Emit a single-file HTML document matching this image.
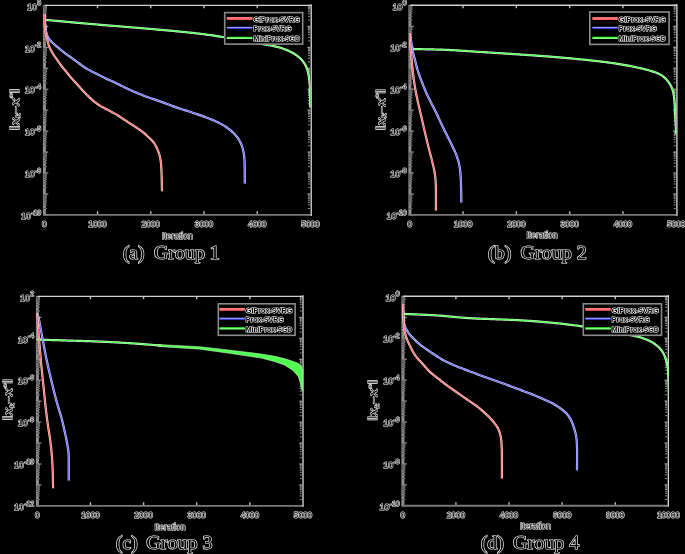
<!DOCTYPE html>
<html><head><meta charset="utf-8"><style>
html,body{margin:0;padding:0;background:#000;width:685px;height:554px;overflow:hidden}
svg{display:block}

</style></head><body>
<svg width="685" height="554" viewBox="0 0 685 554"><rect x="42.90" y="4.90" width="3.0" height="210.50" fill="#8e8e8e"/>
<path d="M43.30 20.04H45.90M43.30 16.35H45.90M43.30 13.74H45.90M43.30 11.71H45.90M43.30 10.05H45.90M43.30 8.65H45.90M43.30 7.43H45.90M43.30 6.36H45.90M43.30 40.99H45.90M43.30 37.30H45.90M43.30 34.69H45.90M43.30 32.66H45.90M43.30 31.00H45.90M43.30 29.60H45.90M43.30 28.38H45.90M43.30 27.31H45.90M43.30 61.94H45.90M43.30 58.25H45.90M43.30 55.64H45.90M43.30 53.61H45.90M43.30 51.95H45.90M43.30 50.55H45.90M43.30 49.33H45.90M43.30 48.26H45.90M43.30 82.89H45.90M43.30 79.20H45.90M43.30 76.59H45.90M43.30 74.56H45.90M43.30 72.90H45.90M43.30 71.50H45.90M43.30 70.28H45.90M43.30 69.21H45.90M43.30 103.84H45.90M43.30 100.15H45.90M43.30 97.54H45.90M43.30 95.51H45.90M43.30 93.85H45.90M43.30 92.45H45.90M43.30 91.23H45.90M43.30 90.16H45.90M43.30 124.79H45.90M43.30 121.10H45.90M43.30 118.49H45.90M43.30 116.46H45.90M43.30 114.80H45.90M43.30 113.40H45.90M43.30 112.18H45.90M43.30 111.11H45.90M43.30 145.74H45.90M43.30 142.05H45.90M43.30 139.44H45.90M43.30 137.41H45.90M43.30 135.75H45.90M43.30 134.35H45.90M43.30 133.13H45.90M43.30 132.06H45.90M43.30 166.69H45.90M43.30 163.00H45.90M43.30 160.39H45.90M43.30 158.36H45.90M43.30 156.70H45.90M43.30 155.30H45.90M43.30 154.08H45.90M43.30 153.01H45.90M43.30 187.64H45.90M43.30 183.95H45.90M43.30 181.34H45.90M43.30 179.31H45.90M43.30 177.65H45.90M43.30 176.25H45.90M43.30 175.03H45.90M43.30 173.96H45.90M43.30 208.59H45.90M43.30 204.90H45.90M43.30 202.29H45.90M43.30 200.26H45.90M43.30 198.60H45.90M43.30 197.20H45.90M43.30 195.98H45.90M43.30 194.91H45.90" fill="none" stroke="#333" stroke-width="0.6"/>
<path d="M45.90 20.04H46.80M45.90 16.35H46.80M45.90 13.74H46.80M45.90 11.71H46.80M45.90 10.05H46.80M45.90 8.65H46.80M45.90 7.43H46.80M45.90 6.36H46.80M45.90 40.99H46.80M45.90 37.30H46.80M45.90 34.69H46.80M45.90 32.66H46.80M45.90 31.00H46.80M45.90 29.60H46.80M45.90 28.38H46.80M45.90 27.31H46.80M45.90 61.94H46.80M45.90 58.25H46.80M45.90 55.64H46.80M45.90 53.61H46.80M45.90 51.95H46.80M45.90 50.55H46.80M45.90 49.33H46.80M45.90 48.26H46.80M45.90 82.89H46.80M45.90 79.20H46.80M45.90 76.59H46.80M45.90 74.56H46.80M45.90 72.90H46.80M45.90 71.50H46.80M45.90 70.28H46.80M45.90 69.21H46.80M45.90 103.84H46.80M45.90 100.15H46.80M45.90 97.54H46.80M45.90 95.51H46.80M45.90 93.85H46.80M45.90 92.45H46.80M45.90 91.23H46.80M45.90 90.16H46.80M45.90 124.79H46.80M45.90 121.10H46.80M45.90 118.49H46.80M45.90 116.46H46.80M45.90 114.80H46.80M45.90 113.40H46.80M45.90 112.18H46.80M45.90 111.11H46.80M45.90 145.74H46.80M45.90 142.05H46.80M45.90 139.44H46.80M45.90 137.41H46.80M45.90 135.75H46.80M45.90 134.35H46.80M45.90 133.13H46.80M45.90 132.06H46.80M45.90 166.69H46.80M45.90 163.00H46.80M45.90 160.39H46.80M45.90 158.36H46.80M45.90 156.70H46.80M45.90 155.30H46.80M45.90 154.08H46.80M45.90 153.01H46.80M45.90 187.64H46.80M45.90 183.95H46.80M45.90 181.34H46.80M45.90 179.31H46.80M45.90 177.65H46.80M45.90 176.25H46.80M45.90 175.03H46.80M45.90 173.96H46.80M45.90 208.59H46.80M45.90 204.90H46.80M45.90 202.29H46.80M45.90 200.26H46.80M45.90 198.60H46.80M45.90 197.20H46.80M45.90 195.98H46.80M45.90 194.91H46.80" fill="none" stroke="#ccc" stroke-width="0.8"/>
<path d="M308.00 20.04H309.90M308.00 16.35H309.90M308.00 13.74H309.90M308.00 11.71H309.90M308.00 10.05H309.90M308.00 8.65H309.90M308.00 7.43H309.90M308.00 6.36H309.90M308.00 40.99H309.90M308.00 37.30H309.90M308.00 34.69H309.90M308.00 32.66H309.90M308.00 31.00H309.90M308.00 29.60H309.90M308.00 28.38H309.90M308.00 27.31H309.90M308.00 61.94H309.90M308.00 58.25H309.90M308.00 55.64H309.90M308.00 53.61H309.90M308.00 51.95H309.90M308.00 50.55H309.90M308.00 49.33H309.90M308.00 48.26H309.90M308.00 82.89H309.90M308.00 79.20H309.90M308.00 76.59H309.90M308.00 74.56H309.90M308.00 72.90H309.90M308.00 71.50H309.90M308.00 70.28H309.90M308.00 69.21H309.90M308.00 103.84H309.90M308.00 100.15H309.90M308.00 97.54H309.90M308.00 95.51H309.90M308.00 93.85H309.90M308.00 92.45H309.90M308.00 91.23H309.90M308.00 90.16H309.90M308.00 124.79H309.90M308.00 121.10H309.90M308.00 118.49H309.90M308.00 116.46H309.90M308.00 114.80H309.90M308.00 113.40H309.90M308.00 112.18H309.90M308.00 111.11H309.90M308.00 145.74H309.90M308.00 142.05H309.90M308.00 139.44H309.90M308.00 137.41H309.90M308.00 135.75H309.90M308.00 134.35H309.90M308.00 133.13H309.90M308.00 132.06H309.90M308.00 166.69H309.90M308.00 163.00H309.90M308.00 160.39H309.90M308.00 158.36H309.90M308.00 156.70H309.90M308.00 155.30H309.90M308.00 154.08H309.90M308.00 153.01H309.90M308.00 187.64H309.90M308.00 183.95H309.90M308.00 181.34H309.90M308.00 179.31H309.90M308.00 177.65H309.90M308.00 176.25H309.90M308.00 175.03H309.90M308.00 173.96H309.90M308.00 208.59H309.90M308.00 204.90H309.90M308.00 202.29H309.90M308.00 200.26H309.90M308.00 198.60H309.90M308.00 197.20H309.90M308.00 195.98H309.90M308.00 194.91H309.90" fill="none" stroke="#aaa" stroke-width="0.9"/>
<path d="M45.90 5.40H48.30M310.20 5.40H307.40M45.90 26.35H48.30M310.20 26.35H307.40M45.90 47.30H48.30M310.20 47.30H307.40M45.90 68.25H48.30M310.20 68.25H307.40M45.90 89.20H48.30M310.20 89.20H307.40M45.90 110.15H48.30M310.20 110.15H307.40M45.90 131.10H48.30M310.20 131.10H307.40M45.90 152.05H48.30M310.20 152.05H307.40M45.90 173.00H48.30M310.20 173.00H307.40M45.90 193.95H48.30M310.20 193.95H307.40M45.90 214.90H48.30M310.20 214.90H307.40" fill="none" stroke="#ccc" stroke-width="0.9"/>
<path d="M43.00 214.90H310.70" fill="none" stroke="#7a7a7a" stroke-width="1.9"/>
<path d="M44.80 5.40H311.20" fill="none" stroke="#d0d0d0" stroke-width="1.4"/>
<path d="M311.20 4.20V215.90" fill="none" stroke="#dcdcdc" stroke-width="1.3"/>
<path d="M97.54 213.90V211.30M97.54 6.10V8.30M150.78 213.90V211.30M150.78 6.10V8.30M204.02 213.90V211.30M204.02 6.10V8.30M257.26 213.90V211.30M257.26 6.10V8.30" fill="none" stroke="#bbb" stroke-width="1.4"/>
<clipPath id="ca"><rect x="43.3" y="5.4" width="267.2" height="209.5"/></clipPath>
<g clip-path="url(#ca)">
<path d="M44.90,19.80 L46.40,19.94 L47.89,20.08 L49.39,20.21 L50.89,20.35 L52.38,20.49 L53.88,20.63 L55.38,20.77 L56.87,20.91 L58.37,21.05 L59.87,21.19 L61.36,21.33 L62.86,21.46 L64.36,21.60 L65.85,21.74 L67.35,21.88 L68.85,22.01 L70.34,22.15 L71.84,22.28 L73.34,22.42 L74.83,22.55 L76.33,22.69 L77.83,22.82 L79.32,22.96 L80.82,23.09 L82.32,23.22 L83.82,23.36 L85.31,23.49 L86.81,23.62 L88.31,23.75 L89.80,23.88 L91.30,24.01 L92.80,24.14 L94.30,24.27 L95.79,24.40 L97.29,24.52 L98.79,24.65 L100.29,24.78 L101.79,24.90 L103.28,25.03 L104.78,25.15 L106.28,25.28 L107.78,25.40 L109.27,25.53 L110.77,25.65 L112.27,25.78 L113.77,25.90 L115.27,26.02 L116.76,26.15 L118.26,26.27 L119.76,26.39 L121.26,26.52 L122.76,26.64 L124.25,26.77 L125.75,26.89 L127.25,27.01 L128.75,27.14 L130.25,27.26 L131.74,27.38 L133.24,27.51 L134.74,27.63 L136.24,27.76 L137.73,27.88 L139.23,28.01 L140.73,28.13 L142.23,28.26 L143.73,28.38 L145.22,28.51 L146.72,28.64 L148.22,28.76 L149.72,28.89 L151.21,29.02 L152.71,29.14 L154.21,29.27 L155.71,29.40 L157.20,29.53 L158.70,29.66 L160.20,29.79 L161.70,29.92 L163.19,30.05 L164.69,30.18 L166.19,30.32 L167.68,30.45 L169.18,30.59 L170.68,30.72 L172.17,30.86 L173.67,31.00 L175.17,31.14 L176.66,31.28 L178.16,31.42 L179.66,31.57 L181.15,31.72 L182.65,31.87 L184.14,32.02 L185.64,32.17 L187.13,32.32 L188.63,32.48 L190.12,32.64 L191.62,32.80 L193.11,32.96 L194.60,33.13 L196.10,33.30 L197.59,33.47 L199.08,33.65 L200.58,33.83 L202.07,34.01 L203.56,34.20 L205.05,34.40 L206.54,34.59 L208.03,34.80 L209.52,35.00 L211.01,35.21 L212.49,35.43 L213.98,35.64 L215.47,35.86 L216.95,36.09 L218.44,36.31 L219.93,36.54 L221.41,36.77 L222.90,37.00 L224.38,37.23 L225.87,37.46 L227.35,37.70 L228.83,37.95 L230.32,38.19 L231.80,38.45 L233.28,38.70 L234.76,38.96 L236.24,39.23 L237.72,39.49 L239.20,39.76 L240.67,40.03 L242.15,40.31 L243.63,40.58 L245.11,40.86 L246.58,41.14 L248.06,41.42 L249.54,41.70 L251.01,41.98 L252.49,42.27 L253.96,42.55 L255.44,42.83 L256.92,43.12 L258.39,43.40 L259.87,43.68 L261.35,43.96 L262.82,44.24 L264.30,44.51 L265.78,44.78 L267.26,45.04 L268.74,45.29 L270.22,45.54 L271.71,45.78 L273.19,46.04 L274.67,46.31 L276.14,46.61 L277.60,46.95 L279.05,47.33 L280.49,47.75 L281.92,48.21 L283.34,48.71 L284.75,49.23 L286.14,49.79 L287.53,50.37 L288.89,50.99 L290.25,51.64 L291.59,52.32 L292.91,53.04 L294.20,53.80 L295.47,54.60 L296.71,55.44 L297.91,56.34 L299.06,57.29 L300.17,58.30 L301.23,59.37 L302.22,60.48 L303.16,61.65 L304.04,62.86 L304.84,64.12 L305.56,65.43 L306.20,66.78 L306.76,68.17 L307.25,69.59 L307.68,71.02 L308.04,72.48 L308.35,73.95 L308.63,75.42 L308.88,76.90 L309.10,78.39 L309.30,79.88 L309.47,81.37 L309.62,82.87 L309.75,84.36 L309.84,85.86 L309.91,87.36 L309.97,88.87 L310.01,90.37 L310.04,91.87 L310.08,93.37 L310.11,94.88 L310.13,96.38 L310.15,97.88 L310.17,99.38 L310.18,100.89 L310.19,102.39 L310.19,103.89 L310.20,105.40 L310.20,106.90 L310.20,107.40" fill="none" stroke="#d0ffd0" stroke-width="2.2" stroke-linejoin="round" stroke-linecap="butt"/>
<path d="M44.90,19.80 L46.40,19.94 L47.89,20.08 L49.39,20.21 L50.89,20.35 L52.38,20.49 L53.88,20.63 L55.38,20.77 L56.87,20.91 L58.37,21.05 L59.87,21.19 L61.36,21.33 L62.86,21.46 L64.36,21.60 L65.85,21.74 L67.35,21.88 L68.85,22.01 L70.34,22.15 L71.84,22.28 L73.34,22.42 L74.83,22.55 L76.33,22.69 L77.83,22.82 L79.32,22.96 L80.82,23.09 L82.32,23.22 L83.82,23.36 L85.31,23.49 L86.81,23.62 L88.31,23.75 L89.80,23.88 L91.30,24.01 L92.80,24.14 L94.30,24.27 L95.79,24.40 L97.29,24.52 L98.79,24.65 L100.29,24.78 L101.79,24.90 L103.28,25.03 L104.78,25.15 L106.28,25.28 L107.78,25.40 L109.27,25.53 L110.77,25.65 L112.27,25.78 L113.77,25.90 L115.27,26.02 L116.76,26.15 L118.26,26.27 L119.76,26.39 L121.26,26.52 L122.76,26.64 L124.25,26.77 L125.75,26.89 L127.25,27.01 L128.75,27.14 L130.25,27.26 L131.74,27.38 L133.24,27.51 L134.74,27.63 L136.24,27.76 L137.73,27.88 L139.23,28.01 L140.73,28.13 L142.23,28.26 L143.73,28.38 L145.22,28.51 L146.72,28.64 L148.22,28.76 L149.72,28.89 L151.21,29.02 L152.71,29.14 L154.21,29.27 L155.71,29.40 L157.20,29.53 L158.70,29.66 L160.20,29.79 L161.70,29.92 L163.19,30.05 L164.69,30.18 L166.19,30.32 L167.68,30.45 L169.18,30.59 L170.68,30.72 L172.17,30.86 L173.67,31.00 L175.17,31.14 L176.66,31.28 L178.16,31.42 L179.66,31.57 L181.15,31.72 L182.65,31.87 L184.14,32.02 L185.64,32.17 L187.13,32.32 L188.63,32.48 L190.12,32.64 L191.62,32.80 L193.11,32.96 L194.60,33.13 L196.10,33.30 L197.59,33.47 L199.08,33.65 L200.58,33.83 L202.07,34.01 L203.56,34.20 L205.05,34.40 L206.54,34.59 L208.03,34.80 L209.52,35.00 L211.01,35.21 L212.49,35.43 L213.98,35.64 L215.47,35.86 L216.95,36.09 L218.44,36.31 L219.93,36.54 L221.41,36.77 L222.90,37.00 L224.38,37.23 L225.87,37.46 L227.35,37.70 L228.83,37.95 L230.32,38.19 L231.80,38.45 L233.28,38.70 L234.76,38.96 L236.24,39.23 L237.72,39.49 L239.20,39.76 L240.67,40.03 L242.15,40.31 L243.63,40.58 L245.11,40.86 L246.58,41.14 L248.06,41.42 L249.54,41.70 L251.01,41.98 L252.49,42.27 L253.96,42.55 L255.44,42.83 L256.92,43.12 L258.39,43.40 L259.87,43.68 L261.35,43.96 L262.82,44.24 L264.30,44.51 L265.78,44.78 L267.26,45.04 L268.74,45.29 L270.22,45.54 L271.71,45.78 L273.19,46.04 L274.67,46.31 L276.14,46.61 L277.60,46.95 L279.05,47.33 L280.49,47.75 L281.92,48.21 L283.34,48.71 L284.75,49.23 L286.14,49.79 L287.53,50.37 L288.89,50.99 L290.25,51.64 L291.59,52.32 L292.91,53.04 L294.20,53.80 L295.47,54.60 L296.71,55.44 L297.91,56.34 L299.06,57.29 L300.17,58.30 L301.23,59.37 L302.22,60.48 L303.16,61.65 L304.04,62.86 L304.84,64.12 L305.56,65.43 L306.20,66.78 L306.76,68.17 L307.25,69.59 L307.68,71.02 L308.04,72.48 L308.35,73.95 L308.63,75.42 L308.88,76.90 L309.10,78.39 L309.30,79.88 L309.47,81.37 L309.62,82.87 L309.75,84.36 L309.84,85.86 L309.91,87.36 L309.97,88.87 L310.01,90.37 L310.04,91.87 L310.08,93.37 L310.11,94.88 L310.13,96.38 L310.15,97.88 L310.17,99.38 L310.18,100.89 L310.19,102.39 L310.19,103.89 L310.20,105.40 L310.20,106.90 L310.20,107.40" fill="none" stroke="#3cff3c" stroke-width="1.0" stroke-linejoin="round" stroke-linecap="butt"/>
<path d="M44.50,14.00 L44.62,15.50 L44.73,17.00 L44.85,18.50 L44.96,20.00 L45.08,21.50 L45.19,23.00 L45.31,24.50 L45.43,26.00 L45.56,27.50 L45.74,28.99 L45.96,30.47 L46.25,31.95 L46.61,33.40 L47.06,34.82 L47.61,36.20 L48.29,37.53 L49.08,38.79 L49.98,39.98 L50.96,41.11 L52.00,42.18 L53.09,43.22 L54.20,44.23 L55.32,45.23 L56.45,46.22 L57.60,47.20 L58.75,48.17 L59.91,49.12 L61.08,50.07 L62.25,51.01 L63.44,51.94 L64.63,52.86 L65.83,53.76 L67.04,54.65 L68.27,55.53 L69.49,56.40 L70.72,57.27 L71.95,58.14 L73.17,59.02 L74.38,59.91 L75.58,60.81 L76.79,61.71 L77.99,62.62 L79.20,63.51 L80.41,64.40 L81.63,65.28 L82.87,66.14 L84.11,66.99 L85.37,67.81 L86.64,68.62 L87.92,69.40 L89.23,70.15 L90.55,70.87 L91.88,71.56 L93.23,72.22 L94.58,72.88 L95.93,73.55 L97.28,74.21 L98.62,74.89 L99.96,75.57 L101.31,76.25 L102.65,76.93 L104.00,77.59 L105.36,78.24 L106.72,78.88 L108.09,79.50 L109.46,80.11 L110.84,80.73 L112.21,81.34 L113.58,81.97 L114.94,82.61 L116.30,83.26 L117.65,83.92 L118.99,84.59 L120.34,85.27 L121.68,85.95 L123.03,86.62 L124.38,87.28 L125.73,87.94 L127.09,88.58 L128.46,89.21 L129.83,89.83 L131.20,90.44 L132.58,91.05 L133.96,91.65 L135.34,92.24 L136.73,92.82 L138.12,93.40 L139.51,93.98 L140.90,94.54 L142.30,95.10 L143.70,95.65 L145.11,96.18 L146.52,96.70 L147.93,97.21 L149.35,97.71 L150.78,98.20 L152.20,98.68 L153.63,99.16 L155.05,99.65 L156.47,100.14 L157.90,100.63 L159.32,101.12 L160.74,101.62 L162.16,102.12 L163.57,102.62 L164.99,103.14 L166.39,103.67 L167.80,104.21 L169.20,104.76 L170.59,105.31 L172.00,105.86 L173.40,106.39 L174.82,106.90 L176.24,107.40 L177.67,107.87 L179.10,108.34 L180.53,108.79 L181.96,109.25 L183.40,109.70 L184.83,110.15 L186.27,110.61 L187.70,111.07 L189.13,111.53 L190.56,112.00 L191.99,112.47 L193.42,112.95 L194.84,113.42 L196.27,113.91 L197.69,114.39 L199.12,114.88 L200.54,115.37 L201.96,115.87 L203.37,116.38 L204.79,116.89 L206.20,117.42 L207.60,117.96 L209.00,118.50 L210.40,119.06 L211.79,119.63 L213.18,120.21 L214.56,120.80 L215.94,121.41 L217.30,122.05 L218.65,122.70 L219.99,123.39 L221.32,124.10 L222.62,124.85 L223.91,125.62 L225.18,126.43 L226.43,127.26 L227.66,128.13 L228.86,129.03 L230.05,129.96 L231.20,130.92 L232.32,131.92 L233.41,132.95 L234.45,134.03 L235.46,135.14 L236.43,136.29 L237.35,137.47 L238.23,138.69 L239.04,139.95 L239.80,141.25 L240.49,142.58 L241.12,143.94 L241.68,145.33 L242.17,146.75 L242.61,148.18 L242.99,149.64 L243.33,151.10 L243.63,152.57 L243.88,154.05 L244.09,155.54 L244.25,157.04 L244.37,158.53 L244.47,160.03 L244.53,161.54 L244.58,163.04 L244.62,164.54 L244.65,166.05 L244.68,167.55 L244.70,169.06 L244.71,170.56 L244.73,172.07 L244.74,173.57 L244.75,175.07 L244.76,176.58 L244.76,178.08 L244.77,179.59 L244.78,181.09 L244.79,182.60 L244.80,183.60" fill="none" stroke="#d0d0ff" stroke-width="2.2" stroke-linejoin="round" stroke-linecap="butt"/>
<path d="M44.50,14.00 L44.62,15.50 L44.73,17.00 L44.85,18.50 L44.96,20.00 L45.08,21.50 L45.19,23.00 L45.31,24.50 L45.43,26.00 L45.56,27.50 L45.74,28.99 L45.96,30.47 L46.25,31.95 L46.61,33.40 L47.06,34.82 L47.61,36.20 L48.29,37.53 L49.08,38.79 L49.98,39.98 L50.96,41.11 L52.00,42.18 L53.09,43.22 L54.20,44.23 L55.32,45.23 L56.45,46.22 L57.60,47.20 L58.75,48.17 L59.91,49.12 L61.08,50.07 L62.25,51.01 L63.44,51.94 L64.63,52.86 L65.83,53.76 L67.04,54.65 L68.27,55.53 L69.49,56.40 L70.72,57.27 L71.95,58.14 L73.17,59.02 L74.38,59.91 L75.58,60.81 L76.79,61.71 L77.99,62.62 L79.20,63.51 L80.41,64.40 L81.63,65.28 L82.87,66.14 L84.11,66.99 L85.37,67.81 L86.64,68.62 L87.92,69.40 L89.23,70.15 L90.55,70.87 L91.88,71.56 L93.23,72.22 L94.58,72.88 L95.93,73.55 L97.28,74.21 L98.62,74.89 L99.96,75.57 L101.31,76.25 L102.65,76.93 L104.00,77.59 L105.36,78.24 L106.72,78.88 L108.09,79.50 L109.46,80.11 L110.84,80.73 L112.21,81.34 L113.58,81.97 L114.94,82.61 L116.30,83.26 L117.65,83.92 L118.99,84.59 L120.34,85.27 L121.68,85.95 L123.03,86.62 L124.38,87.28 L125.73,87.94 L127.09,88.58 L128.46,89.21 L129.83,89.83 L131.20,90.44 L132.58,91.05 L133.96,91.65 L135.34,92.24 L136.73,92.82 L138.12,93.40 L139.51,93.98 L140.90,94.54 L142.30,95.10 L143.70,95.65 L145.11,96.18 L146.52,96.70 L147.93,97.21 L149.35,97.71 L150.78,98.20 L152.20,98.68 L153.63,99.16 L155.05,99.65 L156.47,100.14 L157.90,100.63 L159.32,101.12 L160.74,101.62 L162.16,102.12 L163.57,102.62 L164.99,103.14 L166.39,103.67 L167.80,104.21 L169.20,104.76 L170.59,105.31 L172.00,105.86 L173.40,106.39 L174.82,106.90 L176.24,107.40 L177.67,107.87 L179.10,108.34 L180.53,108.79 L181.96,109.25 L183.40,109.70 L184.83,110.15 L186.27,110.61 L187.70,111.07 L189.13,111.53 L190.56,112.00 L191.99,112.47 L193.42,112.95 L194.84,113.42 L196.27,113.91 L197.69,114.39 L199.12,114.88 L200.54,115.37 L201.96,115.87 L203.37,116.38 L204.79,116.89 L206.20,117.42 L207.60,117.96 L209.00,118.50 L210.40,119.06 L211.79,119.63 L213.18,120.21 L214.56,120.80 L215.94,121.41 L217.30,122.05 L218.65,122.70 L219.99,123.39 L221.32,124.10 L222.62,124.85 L223.91,125.62 L225.18,126.43 L226.43,127.26 L227.66,128.13 L228.86,129.03 L230.05,129.96 L231.20,130.92 L232.32,131.92 L233.41,132.95 L234.45,134.03 L235.46,135.14 L236.43,136.29 L237.35,137.47 L238.23,138.69 L239.04,139.95 L239.80,141.25 L240.49,142.58 L241.12,143.94 L241.68,145.33 L242.17,146.75 L242.61,148.18 L242.99,149.64 L243.33,151.10 L243.63,152.57 L243.88,154.05 L244.09,155.54 L244.25,157.04 L244.37,158.53 L244.47,160.03 L244.53,161.54 L244.58,163.04 L244.62,164.54 L244.65,166.05 L244.68,167.55 L244.70,169.06 L244.71,170.56 L244.73,172.07 L244.74,173.57 L244.75,175.07 L244.76,176.58 L244.76,178.08 L244.77,179.59 L244.78,181.09 L244.79,182.60 L244.80,183.60" fill="none" stroke="#5a5aff" stroke-width="1.0" stroke-linejoin="round" stroke-linecap="butt"/>
<path d="M44.50,14.00 L44.54,15.51 L44.57,17.01 L44.61,18.52 L44.65,20.02 L44.68,21.53 L44.72,23.04 L44.76,24.54 L44.81,26.05 L44.89,27.55 L45.00,29.05 L45.16,30.55 L45.38,32.03 L45.67,33.51 L46.02,34.97 L46.41,36.42 L46.83,37.86 L47.24,39.30 L47.60,40.76 L47.94,42.21 L48.31,43.67 L48.74,45.10 L49.25,46.50 L49.84,47.89 L50.48,49.25 L51.16,50.59 L51.89,51.91 L52.65,53.20 L53.44,54.48 L54.26,55.75 L55.10,57.00 L55.95,58.24 L56.81,59.48 L57.68,60.71 L58.56,61.93 L59.43,63.16 L60.32,64.38 L61.22,65.59 L62.14,66.77 L63.09,67.94 L64.05,69.10 L65.02,70.26 L65.97,71.42 L66.91,72.60 L67.85,73.78 L68.79,74.95 L69.75,76.11 L70.73,77.25 L71.73,78.38 L72.74,79.50 L73.75,80.62 L74.76,81.73 L75.78,82.85 L76.79,83.96 L77.80,85.08 L78.81,86.19 L79.82,87.31 L80.83,88.43 L81.85,89.54 L82.87,90.65 L83.90,91.75 L84.94,92.84 L85.98,93.92 L87.04,95.00 L88.11,96.06 L89.18,97.12 L90.28,98.15 L91.39,99.16 L92.52,100.16 L93.68,101.13 L94.85,102.07 L96.04,102.99 L97.25,103.88 L98.49,104.74 L99.75,105.56 L101.04,106.34 L102.35,107.08 L103.67,107.79 L105.00,108.50 L106.34,109.19 L107.68,109.88 L109.02,110.57 L110.36,111.26 L111.69,111.96 L113.02,112.67 L114.34,113.40 L115.64,114.15 L116.94,114.93 L118.22,115.72 L119.49,116.53 L120.75,117.35 L122.01,118.18 L123.26,119.01 L124.51,119.85 L125.77,120.68 L127.03,121.51 L128.29,122.33 L129.56,123.15 L130.82,123.96 L132.09,124.78 L133.36,125.60 L134.62,126.42 L135.88,127.24 L137.14,128.07 L138.39,128.91 L139.63,129.76 L140.86,130.63 L142.07,131.53 L143.24,132.47 L144.40,133.44 L145.52,134.43 L146.64,135.45 L147.74,136.47 L148.85,137.49 L149.95,138.52 L151.03,139.57 L152.08,140.64 L153.07,141.76 L153.99,142.95 L154.82,144.19 L155.57,145.49 L156.26,146.82 L156.91,148.18 L157.53,149.55 L158.11,150.94 L158.63,152.35 L159.11,153.77 L159.53,155.22 L159.90,156.68 L160.22,158.14 L160.49,159.62 L160.72,161.11 L160.90,162.61 L161.05,164.10 L161.17,165.60 L161.26,167.11 L161.35,168.61 L161.42,170.12 L161.48,171.62 L161.53,173.13 L161.58,174.63 L161.63,176.14 L161.67,177.64 L161.71,179.15 L161.75,180.66 L161.79,182.16 L161.83,183.67 L161.86,185.18 L161.90,186.68 L161.93,188.19 L161.96,189.69 L162.00,191.20" fill="none" stroke="#ffd0d0" stroke-width="2.2" stroke-linejoin="round" stroke-linecap="butt"/>
<path d="M44.50,14.00 L44.54,15.51 L44.57,17.01 L44.61,18.52 L44.65,20.02 L44.68,21.53 L44.72,23.04 L44.76,24.54 L44.81,26.05 L44.89,27.55 L45.00,29.05 L45.16,30.55 L45.38,32.03 L45.67,33.51 L46.02,34.97 L46.41,36.42 L46.83,37.86 L47.24,39.30 L47.60,40.76 L47.94,42.21 L48.31,43.67 L48.74,45.10 L49.25,46.50 L49.84,47.89 L50.48,49.25 L51.16,50.59 L51.89,51.91 L52.65,53.20 L53.44,54.48 L54.26,55.75 L55.10,57.00 L55.95,58.24 L56.81,59.48 L57.68,60.71 L58.56,61.93 L59.43,63.16 L60.32,64.38 L61.22,65.59 L62.14,66.77 L63.09,67.94 L64.05,69.10 L65.02,70.26 L65.97,71.42 L66.91,72.60 L67.85,73.78 L68.79,74.95 L69.75,76.11 L70.73,77.25 L71.73,78.38 L72.74,79.50 L73.75,80.62 L74.76,81.73 L75.78,82.85 L76.79,83.96 L77.80,85.08 L78.81,86.19 L79.82,87.31 L80.83,88.43 L81.85,89.54 L82.87,90.65 L83.90,91.75 L84.94,92.84 L85.98,93.92 L87.04,95.00 L88.11,96.06 L89.18,97.12 L90.28,98.15 L91.39,99.16 L92.52,100.16 L93.68,101.13 L94.85,102.07 L96.04,102.99 L97.25,103.88 L98.49,104.74 L99.75,105.56 L101.04,106.34 L102.35,107.08 L103.67,107.79 L105.00,108.50 L106.34,109.19 L107.68,109.88 L109.02,110.57 L110.36,111.26 L111.69,111.96 L113.02,112.67 L114.34,113.40 L115.64,114.15 L116.94,114.93 L118.22,115.72 L119.49,116.53 L120.75,117.35 L122.01,118.18 L123.26,119.01 L124.51,119.85 L125.77,120.68 L127.03,121.51 L128.29,122.33 L129.56,123.15 L130.82,123.96 L132.09,124.78 L133.36,125.60 L134.62,126.42 L135.88,127.24 L137.14,128.07 L138.39,128.91 L139.63,129.76 L140.86,130.63 L142.07,131.53 L143.24,132.47 L144.40,133.44 L145.52,134.43 L146.64,135.45 L147.74,136.47 L148.85,137.49 L149.95,138.52 L151.03,139.57 L152.08,140.64 L153.07,141.76 L153.99,142.95 L154.82,144.19 L155.57,145.49 L156.26,146.82 L156.91,148.18 L157.53,149.55 L158.11,150.94 L158.63,152.35 L159.11,153.77 L159.53,155.22 L159.90,156.68 L160.22,158.14 L160.49,159.62 L160.72,161.11 L160.90,162.61 L161.05,164.10 L161.17,165.60 L161.26,167.11 L161.35,168.61 L161.42,170.12 L161.48,171.62 L161.53,173.13 L161.58,174.63 L161.63,176.14 L161.67,177.64 L161.71,179.15 L161.75,180.66 L161.79,182.16 L161.83,183.67 L161.86,185.18 L161.90,186.68 L161.93,188.19 L161.96,189.69 L162.00,191.20" fill="none" stroke="#ff5a5a" stroke-width="1.0" stroke-linejoin="round" stroke-linecap="butt"/>
</g>
<rect x="224.70" y="12.60" width="78.00" height="31.50" fill="#000" stroke="#8a8a8a" stroke-width="1.6"/>
<path d="M226.80 18.50H252.40" fill="none" stroke="#ff5a5a" stroke-width="2.9"/>
<path d="M226.80 18.00H252.40" fill="none" stroke="#ff9a9a" stroke-width="0.9"/>
<path d="M226.80 27.90H252.40" fill="none" stroke="#4848ff" stroke-width="2.0"/>
<path d="M226.80 27.40H252.40" fill="none" stroke="#b0b0ff" stroke-width="0.9"/>
<path d="M226.80 37.90H252.40" fill="none" stroke="#30ff30" stroke-width="2.2"/>
<path d="M226.80 38.40H252.40" fill="none" stroke="#b0ffb0" stroke-width="0.9"/>
<rect x="408.40" y="4.80" width="3.0" height="210.60" fill="#8e8e8e"/>
<path d="M408.80 19.95H411.40M408.80 16.26H411.40M408.80 13.64H411.40M408.80 11.61H411.40M408.80 9.95H411.40M408.80 8.55H411.40M408.80 7.33H411.40M408.80 6.26H411.40M408.80 40.91H411.40M408.80 37.22H411.40M408.80 34.60H411.40M408.80 32.57H411.40M408.80 30.91H411.40M408.80 29.51H411.40M408.80 28.29H411.40M408.80 27.22H411.40M408.80 61.87H411.40M408.80 58.18H411.40M408.80 55.56H411.40M408.80 53.53H411.40M408.80 51.87H411.40M408.80 50.47H411.40M408.80 49.25H411.40M408.80 48.18H411.40M408.80 82.83H411.40M408.80 79.14H411.40M408.80 76.52H411.40M408.80 74.49H411.40M408.80 72.83H411.40M408.80 71.43H411.40M408.80 70.21H411.40M408.80 69.14H411.40M408.80 103.79H411.40M408.80 100.10H411.40M408.80 97.48H411.40M408.80 95.45H411.40M408.80 93.79H411.40M408.80 92.39H411.40M408.80 91.17H411.40M408.80 90.10H411.40M408.80 124.75H411.40M408.80 121.06H411.40M408.80 118.44H411.40M408.80 116.41H411.40M408.80 114.75H411.40M408.80 113.35H411.40M408.80 112.13H411.40M408.80 111.06H411.40M408.80 145.71H411.40M408.80 142.02H411.40M408.80 139.40H411.40M408.80 137.37H411.40M408.80 135.71H411.40M408.80 134.31H411.40M408.80 133.09H411.40M408.80 132.02H411.40M408.80 166.67H411.40M408.80 162.98H411.40M408.80 160.36H411.40M408.80 158.33H411.40M408.80 156.67H411.40M408.80 155.27H411.40M408.80 154.05H411.40M408.80 152.98H411.40M408.80 187.63H411.40M408.80 183.94H411.40M408.80 181.32H411.40M408.80 179.29H411.40M408.80 177.63H411.40M408.80 176.23H411.40M408.80 175.01H411.40M408.80 173.94H411.40M408.80 208.59H411.40M408.80 204.90H411.40M408.80 202.28H411.40M408.80 200.25H411.40M408.80 198.59H411.40M408.80 197.19H411.40M408.80 195.97H411.40M408.80 194.90H411.40" fill="none" stroke="#333" stroke-width="0.6"/>
<path d="M411.40 19.95H412.30M411.40 16.26H412.30M411.40 13.64H412.30M411.40 11.61H412.30M411.40 9.95H412.30M411.40 8.55H412.30M411.40 7.33H412.30M411.40 6.26H412.30M411.40 40.91H412.30M411.40 37.22H412.30M411.40 34.60H412.30M411.40 32.57H412.30M411.40 30.91H412.30M411.40 29.51H412.30M411.40 28.29H412.30M411.40 27.22H412.30M411.40 61.87H412.30M411.40 58.18H412.30M411.40 55.56H412.30M411.40 53.53H412.30M411.40 51.87H412.30M411.40 50.47H412.30M411.40 49.25H412.30M411.40 48.18H412.30M411.40 82.83H412.30M411.40 79.14H412.30M411.40 76.52H412.30M411.40 74.49H412.30M411.40 72.83H412.30M411.40 71.43H412.30M411.40 70.21H412.30M411.40 69.14H412.30M411.40 103.79H412.30M411.40 100.10H412.30M411.40 97.48H412.30M411.40 95.45H412.30M411.40 93.79H412.30M411.40 92.39H412.30M411.40 91.17H412.30M411.40 90.10H412.30M411.40 124.75H412.30M411.40 121.06H412.30M411.40 118.44H412.30M411.40 116.41H412.30M411.40 114.75H412.30M411.40 113.35H412.30M411.40 112.13H412.30M411.40 111.06H412.30M411.40 145.71H412.30M411.40 142.02H412.30M411.40 139.40H412.30M411.40 137.37H412.30M411.40 135.71H412.30M411.40 134.31H412.30M411.40 133.09H412.30M411.40 132.02H412.30M411.40 166.67H412.30M411.40 162.98H412.30M411.40 160.36H412.30M411.40 158.33H412.30M411.40 156.67H412.30M411.40 155.27H412.30M411.40 154.05H412.30M411.40 152.98H412.30M411.40 187.63H412.30M411.40 183.94H412.30M411.40 181.32H412.30M411.40 179.29H412.30M411.40 177.63H412.30M411.40 176.23H412.30M411.40 175.01H412.30M411.40 173.94H412.30M411.40 208.59H412.30M411.40 204.90H412.30M411.40 202.28H412.30M411.40 200.25H412.30M411.40 198.59H412.30M411.40 197.19H412.30M411.40 195.97H412.30M411.40 194.90H412.30" fill="none" stroke="#ccc" stroke-width="0.8"/>
<path d="M673.70 19.95H675.60M673.70 16.26H675.60M673.70 13.64H675.60M673.70 11.61H675.60M673.70 9.95H675.60M673.70 8.55H675.60M673.70 7.33H675.60M673.70 6.26H675.60M673.70 40.91H675.60M673.70 37.22H675.60M673.70 34.60H675.60M673.70 32.57H675.60M673.70 30.91H675.60M673.70 29.51H675.60M673.70 28.29H675.60M673.70 27.22H675.60M673.70 61.87H675.60M673.70 58.18H675.60M673.70 55.56H675.60M673.70 53.53H675.60M673.70 51.87H675.60M673.70 50.47H675.60M673.70 49.25H675.60M673.70 48.18H675.60M673.70 82.83H675.60M673.70 79.14H675.60M673.70 76.52H675.60M673.70 74.49H675.60M673.70 72.83H675.60M673.70 71.43H675.60M673.70 70.21H675.60M673.70 69.14H675.60M673.70 103.79H675.60M673.70 100.10H675.60M673.70 97.48H675.60M673.70 95.45H675.60M673.70 93.79H675.60M673.70 92.39H675.60M673.70 91.17H675.60M673.70 90.10H675.60M673.70 124.75H675.60M673.70 121.06H675.60M673.70 118.44H675.60M673.70 116.41H675.60M673.70 114.75H675.60M673.70 113.35H675.60M673.70 112.13H675.60M673.70 111.06H675.60M673.70 145.71H675.60M673.70 142.02H675.60M673.70 139.40H675.60M673.70 137.37H675.60M673.70 135.71H675.60M673.70 134.31H675.60M673.70 133.09H675.60M673.70 132.02H675.60M673.70 166.67H675.60M673.70 162.98H675.60M673.70 160.36H675.60M673.70 158.33H675.60M673.70 156.67H675.60M673.70 155.27H675.60M673.70 154.05H675.60M673.70 152.98H675.60M673.70 187.63H675.60M673.70 183.94H675.60M673.70 181.32H675.60M673.70 179.29H675.60M673.70 177.63H675.60M673.70 176.23H675.60M673.70 175.01H675.60M673.70 173.94H675.60M673.70 208.59H675.60M673.70 204.90H675.60M673.70 202.28H675.60M673.70 200.25H675.60M673.70 198.59H675.60M673.70 197.19H675.60M673.70 195.97H675.60M673.70 194.90H675.60" fill="none" stroke="#aaa" stroke-width="0.9"/>
<path d="M411.40 5.30H413.80M675.90 5.30H673.10M411.40 26.26H413.80M675.90 26.26H673.10M411.40 47.22H413.80M675.90 47.22H673.10M411.40 68.18H413.80M675.90 68.18H673.10M411.40 89.14H413.80M675.90 89.14H673.10M411.40 110.10H413.80M675.90 110.10H673.10M411.40 131.06H413.80M675.90 131.06H673.10M411.40 152.02H413.80M675.90 152.02H673.10M411.40 172.98H413.80M675.90 172.98H673.10M411.40 193.94H413.80M675.90 193.94H673.10M411.40 214.90H413.80M675.90 214.90H673.10" fill="none" stroke="#ccc" stroke-width="0.9"/>
<path d="M408.50 214.90H676.40" fill="none" stroke="#7a7a7a" stroke-width="1.9"/>
<path d="M410.30 5.30H676.90" fill="none" stroke="#d0d0d0" stroke-width="1.4"/>
<path d="M676.90 4.10V215.90" fill="none" stroke="#dcdcdc" stroke-width="1.3"/>
<path d="M463.08 213.90V211.30M463.08 6.00V8.20M516.36 213.90V211.30M516.36 6.00V8.20M569.64 213.90V211.30M569.64 6.00V8.20M622.92 213.90V211.30M622.92 6.00V8.20" fill="none" stroke="#bbb" stroke-width="1.4"/>
<clipPath id="cb"><rect x="408.8" y="5.3" width="267.40000000000003" height="209.6"/></clipPath>
<g clip-path="url(#cb)">
<path d="M411.00,49.00 L412.50,49.03 L414.01,49.06 L415.51,49.09 L417.01,49.12 L418.51,49.14 L420.02,49.17 L421.52,49.20 L423.02,49.23 L424.52,49.26 L426.03,49.29 L427.53,49.32 L429.03,49.35 L430.54,49.38 L432.04,49.42 L433.54,49.45 L435.04,49.49 L436.55,49.53 L438.05,49.57 L439.55,49.62 L441.05,49.66 L442.55,49.71 L444.06,49.77 L445.56,49.83 L447.06,49.89 L448.56,49.96 L450.06,50.03 L451.56,50.11 L453.06,50.19 L454.57,50.27 L456.07,50.36 L457.57,50.45 L459.07,50.55 L460.57,50.65 L462.07,50.75 L463.56,50.85 L465.06,50.95 L466.56,51.05 L468.06,51.15 L469.56,51.24 L471.06,51.34 L472.56,51.44 L474.06,51.54 L475.56,51.64 L477.06,51.73 L478.56,51.83 L480.06,51.92 L481.56,52.02 L483.06,52.12 L484.56,52.21 L486.06,52.31 L487.56,52.40 L489.06,52.50 L490.56,52.60 L492.06,52.69 L493.56,52.79 L495.06,52.88 L496.56,52.98 L498.06,53.08 L499.56,53.17 L501.06,53.27 L502.56,53.37 L504.06,53.46 L505.56,53.56 L507.06,53.66 L508.56,53.76 L510.06,53.86 L511.56,53.95 L513.06,54.05 L514.56,54.15 L516.06,54.25 L517.56,54.35 L519.06,54.45 L520.56,54.55 L522.06,54.65 L523.56,54.75 L525.06,54.85 L526.56,54.95 L528.06,55.06 L529.56,55.16 L531.06,55.26 L532.55,55.37 L534.05,55.47 L535.55,55.58 L537.05,55.69 L538.55,55.80 L540.05,55.91 L541.55,56.02 L543.05,56.13 L544.55,56.24 L546.05,56.35 L547.54,56.47 L549.04,56.58 L550.54,56.70 L552.04,56.82 L553.54,56.94 L555.04,57.05 L556.53,57.18 L558.03,57.30 L559.53,57.42 L561.03,57.55 L562.53,57.67 L564.02,57.80 L565.52,57.93 L567.02,58.06 L568.51,58.20 L570.01,58.33 L571.51,58.47 L573.01,58.61 L574.50,58.75 L576.00,58.89 L577.49,59.03 L578.99,59.18 L580.49,59.32 L581.98,59.47 L583.48,59.62 L584.97,59.77 L586.47,59.93 L587.96,60.09 L589.46,60.25 L590.95,60.41 L592.44,60.57 L593.94,60.74 L595.43,60.91 L596.92,61.08 L598.42,61.26 L599.91,61.44 L601.40,61.62 L602.89,61.81 L604.38,61.99 L605.87,62.19 L607.37,62.38 L608.86,62.58 L610.34,62.78 L611.83,62.99 L613.32,63.20 L614.81,63.41 L616.30,63.63 L617.78,63.86 L619.27,64.09 L620.75,64.33 L622.23,64.58 L623.71,64.84 L625.19,65.11 L626.67,65.38 L628.15,65.66 L629.62,65.95 L631.10,66.24 L632.57,66.54 L634.04,66.84 L635.51,67.15 L636.98,67.46 L638.45,67.78 L639.92,68.11 L641.38,68.44 L642.85,68.78 L644.31,69.14 L645.77,69.50 L647.22,69.88 L648.67,70.28 L650.11,70.69 L651.55,71.13 L652.98,71.58 L654.41,72.06 L655.82,72.57 L657.22,73.11 L658.59,73.71 L659.93,74.38 L661.23,75.12 L662.48,75.94 L663.66,76.85 L664.79,77.83 L665.86,78.87 L666.87,79.98 L667.82,81.14 L668.71,82.34 L669.54,83.58 L670.32,84.86 L671.04,86.18 L671.69,87.53 L672.26,88.91 L672.73,90.32 L673.12,91.77 L673.44,93.23 L673.70,94.71 L673.91,96.20 L674.09,97.69 L674.25,99.18 L674.38,100.68 L674.50,102.18 L674.61,103.68 L674.70,105.18 L674.80,106.68 L674.88,108.18 L674.96,109.68 L675.04,111.18 L675.12,112.68 L675.20,114.18 L675.27,115.68 L675.35,117.18 L675.43,118.68 L675.51,120.18 L675.59,121.69 L675.66,123.19 L675.74,124.69 L675.80,126.19 L675.86,127.69 L675.92,129.19 L675.98,130.70 L676.03,132.20 L676.08,133.70 L676.10,134.20" fill="none" stroke="#d0ffd0" stroke-width="2.2" stroke-linejoin="round" stroke-linecap="butt"/>
<path d="M411.00,49.00 L412.50,49.03 L414.01,49.06 L415.51,49.09 L417.01,49.12 L418.51,49.14 L420.02,49.17 L421.52,49.20 L423.02,49.23 L424.52,49.26 L426.03,49.29 L427.53,49.32 L429.03,49.35 L430.54,49.38 L432.04,49.42 L433.54,49.45 L435.04,49.49 L436.55,49.53 L438.05,49.57 L439.55,49.62 L441.05,49.66 L442.55,49.71 L444.06,49.77 L445.56,49.83 L447.06,49.89 L448.56,49.96 L450.06,50.03 L451.56,50.11 L453.06,50.19 L454.57,50.27 L456.07,50.36 L457.57,50.45 L459.07,50.55 L460.57,50.65 L462.07,50.75 L463.56,50.85 L465.06,50.95 L466.56,51.05 L468.06,51.15 L469.56,51.24 L471.06,51.34 L472.56,51.44 L474.06,51.54 L475.56,51.64 L477.06,51.73 L478.56,51.83 L480.06,51.92 L481.56,52.02 L483.06,52.12 L484.56,52.21 L486.06,52.31 L487.56,52.40 L489.06,52.50 L490.56,52.60 L492.06,52.69 L493.56,52.79 L495.06,52.88 L496.56,52.98 L498.06,53.08 L499.56,53.17 L501.06,53.27 L502.56,53.37 L504.06,53.46 L505.56,53.56 L507.06,53.66 L508.56,53.76 L510.06,53.86 L511.56,53.95 L513.06,54.05 L514.56,54.15 L516.06,54.25 L517.56,54.35 L519.06,54.45 L520.56,54.55 L522.06,54.65 L523.56,54.75 L525.06,54.85 L526.56,54.95 L528.06,55.06 L529.56,55.16 L531.06,55.26 L532.55,55.37 L534.05,55.47 L535.55,55.58 L537.05,55.69 L538.55,55.80 L540.05,55.91 L541.55,56.02 L543.05,56.13 L544.55,56.24 L546.05,56.35 L547.54,56.47 L549.04,56.58 L550.54,56.70 L552.04,56.82 L553.54,56.94 L555.04,57.05 L556.53,57.18 L558.03,57.30 L559.53,57.42 L561.03,57.55 L562.53,57.67 L564.02,57.80 L565.52,57.93 L567.02,58.06 L568.51,58.20 L570.01,58.33 L571.51,58.47 L573.01,58.61 L574.50,58.75 L576.00,58.89 L577.49,59.03 L578.99,59.18 L580.49,59.32 L581.98,59.47 L583.48,59.62 L584.97,59.77 L586.47,59.93 L587.96,60.09 L589.46,60.25 L590.95,60.41 L592.44,60.57 L593.94,60.74 L595.43,60.91 L596.92,61.08 L598.42,61.26 L599.91,61.44 L601.40,61.62 L602.89,61.81 L604.38,61.99 L605.87,62.19 L607.37,62.38 L608.86,62.58 L610.34,62.78 L611.83,62.99 L613.32,63.20 L614.81,63.41 L616.30,63.63 L617.78,63.86 L619.27,64.09 L620.75,64.33 L622.23,64.58 L623.71,64.84 L625.19,65.11 L626.67,65.38 L628.15,65.66 L629.62,65.95 L631.10,66.24 L632.57,66.54 L634.04,66.84 L635.51,67.15 L636.98,67.46 L638.45,67.78 L639.92,68.11 L641.38,68.44 L642.85,68.78 L644.31,69.14 L645.77,69.50 L647.22,69.88 L648.67,70.28 L650.11,70.69 L651.55,71.13 L652.98,71.58 L654.41,72.06 L655.82,72.57 L657.22,73.11 L658.59,73.71 L659.93,74.38 L661.23,75.12 L662.48,75.94 L663.66,76.85 L664.79,77.83 L665.86,78.87 L666.87,79.98 L667.82,81.14 L668.71,82.34 L669.54,83.58 L670.32,84.86 L671.04,86.18 L671.69,87.53 L672.26,88.91 L672.73,90.32 L673.12,91.77 L673.44,93.23 L673.70,94.71 L673.91,96.20 L674.09,97.69 L674.25,99.18 L674.38,100.68 L674.50,102.18 L674.61,103.68 L674.70,105.18 L674.80,106.68 L674.88,108.18 L674.96,109.68 L675.04,111.18 L675.12,112.68 L675.20,114.18 L675.27,115.68 L675.35,117.18 L675.43,118.68 L675.51,120.18 L675.59,121.69 L675.66,123.19 L675.74,124.69 L675.80,126.19 L675.86,127.69 L675.92,129.19 L675.98,130.70 L676.03,132.20 L676.08,133.70 L676.10,134.20" fill="none" stroke="#3cff3c" stroke-width="1.0" stroke-linejoin="round" stroke-linecap="butt"/>
<path d="M409.90,33.00 L410.07,34.49 L410.26,35.99 L410.46,37.48 L410.69,38.96 L410.92,40.45 L411.18,41.93 L411.43,43.41 L411.69,44.90 L411.95,46.38 L412.22,47.86 L412.49,49.34 L412.78,50.81 L413.09,52.28 L413.42,53.75 L413.77,55.21 L414.13,56.67 L414.50,58.13 L414.87,59.59 L415.24,61.05 L415.60,62.51 L415.95,63.97 L416.31,65.43 L416.68,66.89 L417.07,68.34 L417.48,69.79 L417.93,71.22 L418.40,72.65 L418.90,74.07 L419.41,75.48 L419.93,76.89 L420.46,78.30 L421.00,79.71 L421.54,81.11 L422.09,82.51 L422.63,83.91 L423.19,85.31 L423.74,86.71 L424.31,88.10 L424.88,89.50 L425.46,90.88 L426.05,92.27 L426.66,93.64 L427.28,95.01 L427.92,96.37 L428.58,97.72 L429.25,99.07 L429.92,100.42 L430.60,101.76 L431.28,103.10 L431.96,104.44 L432.64,105.78 L433.32,107.12 L434.00,108.47 L434.68,109.81 L435.35,111.15 L436.02,112.50 L436.69,113.85 L437.34,115.21 L437.99,116.56 L438.62,117.93 L439.25,119.29 L439.88,120.66 L440.50,122.03 L441.13,123.40 L441.75,124.77 L442.39,126.13 L443.03,127.49 L443.69,128.84 L444.36,130.19 L445.03,131.53 L445.72,132.87 L446.41,134.21 L447.10,135.55 L447.79,136.88 L448.47,138.22 L449.15,139.57 L449.81,140.91 L450.48,142.26 L451.13,143.62 L451.79,144.97 L452.44,146.33 L453.09,147.68 L453.73,149.05 L454.36,150.41 L454.97,151.79 L455.56,153.17 L456.12,154.56 L456.65,155.97 L457.15,157.39 L457.63,158.81 L458.07,160.25 L458.49,161.69 L458.87,163.15 L459.21,164.61 L459.50,166.08 L459.75,167.57 L459.97,169.05 L460.16,170.54 L460.31,172.04 L460.45,173.54 L460.56,175.04 L460.66,176.54 L460.74,178.04 L460.81,179.54 L460.87,181.05 L460.92,182.55 L460.97,184.05 L461.02,185.56 L461.06,187.06 L461.10,188.56 L461.13,190.07 L461.17,191.57 L461.20,193.08 L461.23,194.58 L461.26,196.08 L461.29,197.59 L461.32,199.09 L461.35,200.59 L461.39,202.10 L461.40,202.60" fill="none" stroke="#d0d0ff" stroke-width="2.2" stroke-linejoin="round" stroke-linecap="butt"/>
<path d="M409.90,33.00 L410.07,34.49 L410.26,35.99 L410.46,37.48 L410.69,38.96 L410.92,40.45 L411.18,41.93 L411.43,43.41 L411.69,44.90 L411.95,46.38 L412.22,47.86 L412.49,49.34 L412.78,50.81 L413.09,52.28 L413.42,53.75 L413.77,55.21 L414.13,56.67 L414.50,58.13 L414.87,59.59 L415.24,61.05 L415.60,62.51 L415.95,63.97 L416.31,65.43 L416.68,66.89 L417.07,68.34 L417.48,69.79 L417.93,71.22 L418.40,72.65 L418.90,74.07 L419.41,75.48 L419.93,76.89 L420.46,78.30 L421.00,79.71 L421.54,81.11 L422.09,82.51 L422.63,83.91 L423.19,85.31 L423.74,86.71 L424.31,88.10 L424.88,89.50 L425.46,90.88 L426.05,92.27 L426.66,93.64 L427.28,95.01 L427.92,96.37 L428.58,97.72 L429.25,99.07 L429.92,100.42 L430.60,101.76 L431.28,103.10 L431.96,104.44 L432.64,105.78 L433.32,107.12 L434.00,108.47 L434.68,109.81 L435.35,111.15 L436.02,112.50 L436.69,113.85 L437.34,115.21 L437.99,116.56 L438.62,117.93 L439.25,119.29 L439.88,120.66 L440.50,122.03 L441.13,123.40 L441.75,124.77 L442.39,126.13 L443.03,127.49 L443.69,128.84 L444.36,130.19 L445.03,131.53 L445.72,132.87 L446.41,134.21 L447.10,135.55 L447.79,136.88 L448.47,138.22 L449.15,139.57 L449.81,140.91 L450.48,142.26 L451.13,143.62 L451.79,144.97 L452.44,146.33 L453.09,147.68 L453.73,149.05 L454.36,150.41 L454.97,151.79 L455.56,153.17 L456.12,154.56 L456.65,155.97 L457.15,157.39 L457.63,158.81 L458.07,160.25 L458.49,161.69 L458.87,163.15 L459.21,164.61 L459.50,166.08 L459.75,167.57 L459.97,169.05 L460.16,170.54 L460.31,172.04 L460.45,173.54 L460.56,175.04 L460.66,176.54 L460.74,178.04 L460.81,179.54 L460.87,181.05 L460.92,182.55 L460.97,184.05 L461.02,185.56 L461.06,187.06 L461.10,188.56 L461.13,190.07 L461.17,191.57 L461.20,193.08 L461.23,194.58 L461.26,196.08 L461.29,197.59 L461.32,199.09 L461.35,200.59 L461.39,202.10 L461.40,202.60" fill="none" stroke="#5a5aff" stroke-width="1.0" stroke-linejoin="round" stroke-linecap="butt"/>
<path d="M409.90,33.00 L409.88,34.51 L409.86,36.01 L409.85,37.52 L409.86,39.02 L409.90,40.53 L409.97,42.03 L410.07,43.53 L410.20,45.03 L410.35,46.53 L410.51,48.03 L410.67,49.53 L410.84,51.02 L410.99,52.52 L411.14,54.02 L411.28,55.52 L411.42,57.02 L411.56,58.52 L411.70,60.02 L411.83,61.52 L411.96,63.02 L412.09,64.52 L412.22,66.02 L412.36,67.52 L412.51,69.02 L412.67,70.51 L412.85,72.01 L413.03,73.50 L413.22,75.00 L413.41,76.49 L413.60,77.99 L413.80,79.48 L414.01,80.97 L414.22,82.46 L414.44,83.95 L414.68,85.44 L414.92,86.92 L415.18,88.41 L415.45,89.89 L415.72,91.37 L416.01,92.85 L416.30,94.33 L416.60,95.80 L416.90,97.28 L417.21,98.75 L417.52,100.23 L417.83,101.70 L418.16,103.17 L418.48,104.64 L418.82,106.11 L419.16,107.58 L419.50,109.04 L419.85,110.51 L420.20,111.97 L420.55,113.44 L420.90,114.90 L421.24,116.37 L421.58,117.84 L421.91,119.31 L422.24,120.77 L422.57,122.24 L422.90,123.71 L423.24,125.18 L423.57,126.65 L423.91,128.12 L424.26,129.58 L424.60,131.05 L424.95,132.51 L425.30,133.98 L425.65,135.44 L426.00,136.91 L426.36,138.37 L426.71,139.84 L427.06,141.30 L427.42,142.76 L427.78,144.23 L428.13,145.69 L428.50,147.15 L428.86,148.61 L429.23,150.07 L429.61,151.53 L429.99,152.99 L430.38,154.44 L430.77,155.90 L431.15,157.35 L431.54,158.81 L431.91,160.27 L432.28,161.73 L432.64,163.19 L432.99,164.66 L433.32,166.13 L433.63,167.60 L433.94,169.07 L434.24,170.55 L434.52,172.03 L434.78,173.51 L435.00,175.00 L435.20,176.49 L435.36,177.99 L435.50,179.49 L435.61,180.99 L435.69,182.49 L435.76,184.00 L435.81,185.50 L435.85,187.01 L435.88,188.51 L435.90,190.02 L435.91,191.52 L435.92,193.03 L435.93,194.54 L435.93,196.04 L435.93,197.55 L435.93,199.05 L435.93,200.56 L435.92,202.07 L435.92,203.57 L435.91,205.08 L435.91,206.58 L435.90,208.09 L435.90,209.60 L435.90,210.60" fill="none" stroke="#ffd0d0" stroke-width="2.2" stroke-linejoin="round" stroke-linecap="butt"/>
<path d="M409.90,33.00 L409.88,34.51 L409.86,36.01 L409.85,37.52 L409.86,39.02 L409.90,40.53 L409.97,42.03 L410.07,43.53 L410.20,45.03 L410.35,46.53 L410.51,48.03 L410.67,49.53 L410.84,51.02 L410.99,52.52 L411.14,54.02 L411.28,55.52 L411.42,57.02 L411.56,58.52 L411.70,60.02 L411.83,61.52 L411.96,63.02 L412.09,64.52 L412.22,66.02 L412.36,67.52 L412.51,69.02 L412.67,70.51 L412.85,72.01 L413.03,73.50 L413.22,75.00 L413.41,76.49 L413.60,77.99 L413.80,79.48 L414.01,80.97 L414.22,82.46 L414.44,83.95 L414.68,85.44 L414.92,86.92 L415.18,88.41 L415.45,89.89 L415.72,91.37 L416.01,92.85 L416.30,94.33 L416.60,95.80 L416.90,97.28 L417.21,98.75 L417.52,100.23 L417.83,101.70 L418.16,103.17 L418.48,104.64 L418.82,106.11 L419.16,107.58 L419.50,109.04 L419.85,110.51 L420.20,111.97 L420.55,113.44 L420.90,114.90 L421.24,116.37 L421.58,117.84 L421.91,119.31 L422.24,120.77 L422.57,122.24 L422.90,123.71 L423.24,125.18 L423.57,126.65 L423.91,128.12 L424.26,129.58 L424.60,131.05 L424.95,132.51 L425.30,133.98 L425.65,135.44 L426.00,136.91 L426.36,138.37 L426.71,139.84 L427.06,141.30 L427.42,142.76 L427.78,144.23 L428.13,145.69 L428.50,147.15 L428.86,148.61 L429.23,150.07 L429.61,151.53 L429.99,152.99 L430.38,154.44 L430.77,155.90 L431.15,157.35 L431.54,158.81 L431.91,160.27 L432.28,161.73 L432.64,163.19 L432.99,164.66 L433.32,166.13 L433.63,167.60 L433.94,169.07 L434.24,170.55 L434.52,172.03 L434.78,173.51 L435.00,175.00 L435.20,176.49 L435.36,177.99 L435.50,179.49 L435.61,180.99 L435.69,182.49 L435.76,184.00 L435.81,185.50 L435.85,187.01 L435.88,188.51 L435.90,190.02 L435.91,191.52 L435.92,193.03 L435.93,194.54 L435.93,196.04 L435.93,197.55 L435.93,199.05 L435.93,200.56 L435.92,202.07 L435.92,203.57 L435.91,205.08 L435.91,206.58 L435.90,208.09 L435.90,209.60 L435.90,210.60" fill="none" stroke="#ff5a5a" stroke-width="1.0" stroke-linejoin="round" stroke-linecap="butt"/>
</g>
<rect x="589.80" y="12.00" width="79.30" height="32.40" fill="#000" stroke="#8a8a8a" stroke-width="1.6"/>
<path d="M592.40 18.60H617.70" fill="none" stroke="#ff5a5a" stroke-width="2.9"/>
<path d="M592.40 18.10H617.70" fill="none" stroke="#ff9a9a" stroke-width="0.9"/>
<path d="M592.40 27.90H617.70" fill="none" stroke="#4848ff" stroke-width="2.0"/>
<path d="M592.40 27.40H617.70" fill="none" stroke="#b0b0ff" stroke-width="0.9"/>
<path d="M592.40 37.80H617.70" fill="none" stroke="#30ff30" stroke-width="2.2"/>
<path d="M592.40 38.30H617.70" fill="none" stroke="#b0ffb0" stroke-width="0.9"/>
<rect x="35.90" y="295.90" width="3.0" height="210.50" fill="#8e8e8e"/>
<path d="M36.30 311.04H38.90M36.30 307.35H38.90M36.30 304.74H38.90M36.30 302.71H38.90M36.30 301.05H38.90M36.30 299.65H38.90M36.30 298.43H38.90M36.30 297.36H38.90M36.30 331.99H38.90M36.30 328.30H38.90M36.30 325.69H38.90M36.30 323.66H38.90M36.30 322.00H38.90M36.30 320.60H38.90M36.30 319.38H38.90M36.30 318.31H38.90M36.30 352.94H38.90M36.30 349.25H38.90M36.30 346.64H38.90M36.30 344.61H38.90M36.30 342.95H38.90M36.30 341.55H38.90M36.30 340.33H38.90M36.30 339.26H38.90M36.30 373.89H38.90M36.30 370.20H38.90M36.30 367.59H38.90M36.30 365.56H38.90M36.30 363.90H38.90M36.30 362.50H38.90M36.30 361.28H38.90M36.30 360.21H38.90M36.30 394.84H38.90M36.30 391.15H38.90M36.30 388.54H38.90M36.30 386.51H38.90M36.30 384.85H38.90M36.30 383.45H38.90M36.30 382.23H38.90M36.30 381.16H38.90M36.30 415.79H38.90M36.30 412.10H38.90M36.30 409.49H38.90M36.30 407.46H38.90M36.30 405.80H38.90M36.30 404.40H38.90M36.30 403.18H38.90M36.30 402.11H38.90M36.30 436.74H38.90M36.30 433.05H38.90M36.30 430.44H38.90M36.30 428.41H38.90M36.30 426.75H38.90M36.30 425.35H38.90M36.30 424.13H38.90M36.30 423.06H38.90M36.30 457.69H38.90M36.30 454.00H38.90M36.30 451.39H38.90M36.30 449.36H38.90M36.30 447.70H38.90M36.30 446.30H38.90M36.30 445.08H38.90M36.30 444.01H38.90M36.30 478.64H38.90M36.30 474.95H38.90M36.30 472.34H38.90M36.30 470.31H38.90M36.30 468.65H38.90M36.30 467.25H38.90M36.30 466.03H38.90M36.30 464.96H38.90M36.30 499.59H38.90M36.30 495.90H38.90M36.30 493.29H38.90M36.30 491.26H38.90M36.30 489.60H38.90M36.30 488.20H38.90M36.30 486.98H38.90M36.30 485.91H38.90" fill="none" stroke="#333" stroke-width="0.6"/>
<path d="M38.90 311.04H39.80M38.90 307.35H39.80M38.90 304.74H39.80M38.90 302.71H39.80M38.90 301.05H39.80M38.90 299.65H39.80M38.90 298.43H39.80M38.90 297.36H39.80M38.90 331.99H39.80M38.90 328.30H39.80M38.90 325.69H39.80M38.90 323.66H39.80M38.90 322.00H39.80M38.90 320.60H39.80M38.90 319.38H39.80M38.90 318.31H39.80M38.90 352.94H39.80M38.90 349.25H39.80M38.90 346.64H39.80M38.90 344.61H39.80M38.90 342.95H39.80M38.90 341.55H39.80M38.90 340.33H39.80M38.90 339.26H39.80M38.90 373.89H39.80M38.90 370.20H39.80M38.90 367.59H39.80M38.90 365.56H39.80M38.90 363.90H39.80M38.90 362.50H39.80M38.90 361.28H39.80M38.90 360.21H39.80M38.90 394.84H39.80M38.90 391.15H39.80M38.90 388.54H39.80M38.90 386.51H39.80M38.90 384.85H39.80M38.90 383.45H39.80M38.90 382.23H39.80M38.90 381.16H39.80M38.90 415.79H39.80M38.90 412.10H39.80M38.90 409.49H39.80M38.90 407.46H39.80M38.90 405.80H39.80M38.90 404.40H39.80M38.90 403.18H39.80M38.90 402.11H39.80M38.90 436.74H39.80M38.90 433.05H39.80M38.90 430.44H39.80M38.90 428.41H39.80M38.90 426.75H39.80M38.90 425.35H39.80M38.90 424.13H39.80M38.90 423.06H39.80M38.90 457.69H39.80M38.90 454.00H39.80M38.90 451.39H39.80M38.90 449.36H39.80M38.90 447.70H39.80M38.90 446.30H39.80M38.90 445.08H39.80M38.90 444.01H39.80M38.90 478.64H39.80M38.90 474.95H39.80M38.90 472.34H39.80M38.90 470.31H39.80M38.90 468.65H39.80M38.90 467.25H39.80M38.90 466.03H39.80M38.90 464.96H39.80M38.90 499.59H39.80M38.90 495.90H39.80M38.90 493.29H39.80M38.90 491.26H39.80M38.90 489.60H39.80M38.90 488.20H39.80M38.90 486.98H39.80M38.90 485.91H39.80" fill="none" stroke="#ccc" stroke-width="0.8"/>
<path d="M299.80 311.04H301.70M299.80 307.35H301.70M299.80 304.74H301.70M299.80 302.71H301.70M299.80 301.05H301.70M299.80 299.65H301.70M299.80 298.43H301.70M299.80 297.36H301.70M299.80 331.99H301.70M299.80 328.30H301.70M299.80 325.69H301.70M299.80 323.66H301.70M299.80 322.00H301.70M299.80 320.60H301.70M299.80 319.38H301.70M299.80 318.31H301.70M299.80 352.94H301.70M299.80 349.25H301.70M299.80 346.64H301.70M299.80 344.61H301.70M299.80 342.95H301.70M299.80 341.55H301.70M299.80 340.33H301.70M299.80 339.26H301.70M299.80 373.89H301.70M299.80 370.20H301.70M299.80 367.59H301.70M299.80 365.56H301.70M299.80 363.90H301.70M299.80 362.50H301.70M299.80 361.28H301.70M299.80 360.21H301.70M299.80 394.84H301.70M299.80 391.15H301.70M299.80 388.54H301.70M299.80 386.51H301.70M299.80 384.85H301.70M299.80 383.45H301.70M299.80 382.23H301.70M299.80 381.16H301.70M299.80 415.79H301.70M299.80 412.10H301.70M299.80 409.49H301.70M299.80 407.46H301.70M299.80 405.80H301.70M299.80 404.40H301.70M299.80 403.18H301.70M299.80 402.11H301.70M299.80 436.74H301.70M299.80 433.05H301.70M299.80 430.44H301.70M299.80 428.41H301.70M299.80 426.75H301.70M299.80 425.35H301.70M299.80 424.13H301.70M299.80 423.06H301.70M299.80 457.69H301.70M299.80 454.00H301.70M299.80 451.39H301.70M299.80 449.36H301.70M299.80 447.70H301.70M299.80 446.30H301.70M299.80 445.08H301.70M299.80 444.01H301.70M299.80 478.64H301.70M299.80 474.95H301.70M299.80 472.34H301.70M299.80 470.31H301.70M299.80 468.65H301.70M299.80 467.25H301.70M299.80 466.03H301.70M299.80 464.96H301.70M299.80 499.59H301.70M299.80 495.90H301.70M299.80 493.29H301.70M299.80 491.26H301.70M299.80 489.60H301.70M299.80 488.20H301.70M299.80 486.98H301.70M299.80 485.91H301.70" fill="none" stroke="#aaa" stroke-width="0.9"/>
<path d="M38.90 296.40H41.30M302.00 296.40H299.20M38.90 317.35H41.30M302.00 317.35H299.20M38.90 338.30H41.30M302.00 338.30H299.20M38.90 359.25H41.30M302.00 359.25H299.20M38.90 380.20H41.30M302.00 380.20H299.20M38.90 401.15H41.30M302.00 401.15H299.20M38.90 422.10H41.30M302.00 422.10H299.20M38.90 443.05H41.30M302.00 443.05H299.20M38.90 464.00H41.30M302.00 464.00H299.20M38.90 484.95H41.30M302.00 484.95H299.20M38.90 505.90H41.30M302.00 505.90H299.20" fill="none" stroke="#ccc" stroke-width="0.9"/>
<path d="M36.00 505.90H302.50" fill="none" stroke="#7a7a7a" stroke-width="1.9"/>
<path d="M37.80 296.40H303.00" fill="none" stroke="#d0d0d0" stroke-width="1.4"/>
<path d="M303.00 295.20V506.90" fill="none" stroke="#dcdcdc" stroke-width="1.3"/>
<path d="M90.44 504.90V502.30M90.44 297.10V299.30M143.58 504.90V502.30M143.58 297.10V299.30M196.72 504.90V502.30M196.72 297.10V299.30M249.86 504.90V502.30M249.86 297.10V299.30" fill="none" stroke="#bbb" stroke-width="1.4"/>
<clipPath id="cc"><rect x="36.3" y="296.4" width="266.7" height="209.5"/></clipPath>
<g clip-path="url(#cc)">
<path d="M36.50,339.60 L38.01,339.64 L39.51,339.69 L41.02,339.73 L42.52,339.78 L44.03,339.82 L45.54,339.87 L47.04,339.91 L48.55,339.95 L50.05,340.00 L51.56,340.04 L53.07,340.09 L54.57,340.13 L56.08,340.18 L57.58,340.22 L59.09,340.27 L60.60,340.31 L62.10,340.36 L63.61,340.40 L65.11,340.45 L66.62,340.50 L68.12,340.54 L69.63,340.59 L71.14,340.63 L72.64,340.68 L74.15,340.73 L75.65,340.77 L77.16,340.82 L78.67,340.86 L80.17,340.91 L81.68,340.95 L83.18,341.00 L84.69,341.05 L86.20,341.09 L87.70,341.14 L89.21,341.19 L90.71,341.24 L92.22,341.30 L93.72,341.35 L95.23,341.41 L96.74,341.47 L98.24,341.53 L99.75,341.59 L101.25,341.66 L102.76,341.72 L104.26,341.79 L105.77,341.86 L107.27,341.93 L108.78,342.01 L110.28,342.08 L111.79,342.15 L113.29,342.23 L114.79,342.31 L116.30,342.39 L117.80,342.47 L119.31,342.56 L120.81,342.64 L122.32,342.73 L123.82,342.82 L125.32,342.91 L126.83,343.00 L128.33,343.10 L129.83,343.19 L131.34,343.29 L132.84,343.40 L134.34,343.50 L135.85,343.61 L137.35,343.72 L138.85,343.83 L140.35,343.95 L141.86,344.06 L143.36,344.18 L144.86,344.30 L146.36,344.41 L147.86,344.53 L149.37,344.65 L150.87,344.77 L152.37,344.89 L153.87,345.01 L155.37,345.13 L156.86,345.25 L158.32,345.37 L159.66,345.46 L160.76,345.54 L161.57,345.58 L162.00,345.60" fill="none" stroke="#d0ffd0" stroke-width="2.2" stroke-linejoin="round" stroke-linecap="butt"/>
<path d="M36.50,339.60 L38.01,339.64 L39.51,339.69 L41.02,339.73 L42.52,339.78 L44.03,339.82 L45.54,339.87 L47.04,339.91 L48.55,339.95 L50.05,340.00 L51.56,340.04 L53.07,340.09 L54.57,340.13 L56.08,340.18 L57.58,340.22 L59.09,340.27 L60.60,340.31 L62.10,340.36 L63.61,340.40 L65.11,340.45 L66.62,340.50 L68.12,340.54 L69.63,340.59 L71.14,340.63 L72.64,340.68 L74.15,340.73 L75.65,340.77 L77.16,340.82 L78.67,340.86 L80.17,340.91 L81.68,340.95 L83.18,341.00 L84.69,341.05 L86.20,341.09 L87.70,341.14 L89.21,341.19 L90.71,341.24 L92.22,341.30 L93.72,341.35 L95.23,341.41 L96.74,341.47 L98.24,341.53 L99.75,341.59 L101.25,341.66 L102.76,341.72 L104.26,341.79 L105.77,341.86 L107.27,341.93 L108.78,342.01 L110.28,342.08 L111.79,342.15 L113.29,342.23 L114.79,342.31 L116.30,342.39 L117.80,342.47 L119.31,342.56 L120.81,342.64 L122.32,342.73 L123.82,342.82 L125.32,342.91 L126.83,343.00 L128.33,343.10 L129.83,343.19 L131.34,343.29 L132.84,343.40 L134.34,343.50 L135.85,343.61 L137.35,343.72 L138.85,343.83 L140.35,343.95 L141.86,344.06 L143.36,344.18 L144.86,344.30 L146.36,344.41 L147.86,344.53 L149.37,344.65 L150.87,344.77 L152.37,344.89 L153.87,345.01 L155.37,345.13 L156.86,345.25 L158.32,345.37 L159.66,345.46 L160.76,345.54 L161.57,345.58 L162.00,345.60" fill="none" stroke="#3cff3c" stroke-width="1.0" stroke-linejoin="round" stroke-linecap="butt"/>
<path d="M37.00,313.50 L37.60,314.82 L38.13,316.18 L38.55,317.60 L38.89,319.06 L39.18,320.53 L39.47,322.01 L39.74,323.50 L40.02,324.98 L40.29,326.46 L40.57,327.95 L40.84,329.43 L41.11,330.91 L41.38,332.40 L41.65,333.88 L41.93,335.36 L42.20,336.85 L42.47,338.33 L42.75,339.82 L43.02,341.30 L43.29,342.78 L43.57,344.27 L43.84,345.75 L44.12,347.23 L44.40,348.71 L44.68,350.20 L44.96,351.68 L45.24,353.16 L45.53,354.64 L45.83,356.12 L46.12,357.60 L46.43,359.08 L46.74,360.55 L47.06,362.03 L47.39,363.50 L47.72,364.97 L48.05,366.44 L48.38,367.91 L48.72,369.38 L49.06,370.85 L49.40,372.32 L49.74,373.79 L50.08,375.26 L50.43,376.73 L50.77,378.20 L51.12,379.67 L51.47,381.13 L51.82,382.60 L52.17,384.07 L52.53,385.53 L52.88,387.00 L53.24,388.46 L53.60,389.93 L53.96,391.39 L54.33,392.86 L54.71,394.32 L55.08,395.78 L55.47,397.24 L55.86,398.69 L56.25,400.15 L56.65,401.61 L57.05,403.06 L57.46,404.51 L57.88,405.96 L58.32,407.40 L58.76,408.84 L59.22,410.28 L59.68,411.72 L60.14,413.15 L60.59,414.59 L61.01,416.04 L61.41,417.49 L61.79,418.95 L62.15,420.42 L62.50,421.89 L62.84,423.35 L63.18,424.82 L63.52,426.29 L63.86,427.76 L64.19,429.24 L64.52,430.71 L64.85,432.18 L65.17,433.65 L65.49,435.13 L65.80,436.61 L66.10,438.08 L66.40,439.56 L66.69,441.04 L66.98,442.52 L67.25,444.01 L67.52,445.49 L67.77,446.98 L68.01,448.47 L68.22,449.96 L68.40,451.45 L68.53,452.95 L68.62,454.46 L68.68,455.96 L68.71,457.47 L68.73,458.98 L68.74,460.49 L68.75,462.00 L68.75,463.50 L68.75,465.01 L68.75,466.52 L68.74,468.03 L68.74,469.54 L68.74,471.05 L68.73,472.55 L68.72,474.06 L68.72,475.57 L68.71,477.08 L68.71,478.59 L68.70,480.10 L68.70,480.60" fill="none" stroke="#d0d0ff" stroke-width="2.2" stroke-linejoin="round" stroke-linecap="butt"/>
<path d="M37.00,313.50 L37.60,314.82 L38.13,316.18 L38.55,317.60 L38.89,319.06 L39.18,320.53 L39.47,322.01 L39.74,323.50 L40.02,324.98 L40.29,326.46 L40.57,327.95 L40.84,329.43 L41.11,330.91 L41.38,332.40 L41.65,333.88 L41.93,335.36 L42.20,336.85 L42.47,338.33 L42.75,339.82 L43.02,341.30 L43.29,342.78 L43.57,344.27 L43.84,345.75 L44.12,347.23 L44.40,348.71 L44.68,350.20 L44.96,351.68 L45.24,353.16 L45.53,354.64 L45.83,356.12 L46.12,357.60 L46.43,359.08 L46.74,360.55 L47.06,362.03 L47.39,363.50 L47.72,364.97 L48.05,366.44 L48.38,367.91 L48.72,369.38 L49.06,370.85 L49.40,372.32 L49.74,373.79 L50.08,375.26 L50.43,376.73 L50.77,378.20 L51.12,379.67 L51.47,381.13 L51.82,382.60 L52.17,384.07 L52.53,385.53 L52.88,387.00 L53.24,388.46 L53.60,389.93 L53.96,391.39 L54.33,392.86 L54.71,394.32 L55.08,395.78 L55.47,397.24 L55.86,398.69 L56.25,400.15 L56.65,401.61 L57.05,403.06 L57.46,404.51 L57.88,405.96 L58.32,407.40 L58.76,408.84 L59.22,410.28 L59.68,411.72 L60.14,413.15 L60.59,414.59 L61.01,416.04 L61.41,417.49 L61.79,418.95 L62.15,420.42 L62.50,421.89 L62.84,423.35 L63.18,424.82 L63.52,426.29 L63.86,427.76 L64.19,429.24 L64.52,430.71 L64.85,432.18 L65.17,433.65 L65.49,435.13 L65.80,436.61 L66.10,438.08 L66.40,439.56 L66.69,441.04 L66.98,442.52 L67.25,444.01 L67.52,445.49 L67.77,446.98 L68.01,448.47 L68.22,449.96 L68.40,451.45 L68.53,452.95 L68.62,454.46 L68.68,455.96 L68.71,457.47 L68.73,458.98 L68.74,460.49 L68.75,462.00 L68.75,463.50 L68.75,465.01 L68.75,466.52 L68.74,468.03 L68.74,469.54 L68.74,471.05 L68.73,472.55 L68.72,474.06 L68.72,475.57 L68.71,477.08 L68.71,478.59 L68.70,480.10 L68.70,480.60" fill="none" stroke="#5a5aff" stroke-width="1.0" stroke-linejoin="round" stroke-linecap="butt"/>
<path d="M37.00,313.50 L37.07,315.00 L37.16,316.50 L37.27,318.00 L37.40,319.50 L37.54,321.00 L37.68,322.50 L37.82,324.00 L37.95,325.49 L38.08,326.99 L38.21,328.49 L38.33,329.99 L38.45,331.49 L38.56,332.99 L38.68,334.49 L38.79,335.99 L38.91,337.49 L39.03,338.99 L39.15,340.49 L39.27,341.99 L39.39,343.49 L39.52,344.99 L39.64,346.49 L39.77,347.99 L39.90,349.49 L40.03,350.99 L40.17,352.49 L40.30,353.99 L40.43,355.49 L40.57,356.98 L40.70,358.48 L40.84,359.98 L40.98,361.48 L41.11,362.98 L41.25,364.48 L41.39,365.97 L41.53,367.47 L41.68,368.97 L41.82,370.47 L41.97,371.97 L42.12,373.46 L42.27,374.96 L42.43,376.46 L42.59,377.95 L42.75,379.45 L42.90,380.94 L43.06,382.44 L43.22,383.94 L43.38,385.43 L43.54,386.93 L43.69,388.43 L43.85,389.92 L44.00,391.42 L44.15,392.92 L44.30,394.41 L44.45,395.91 L44.60,397.41 L44.76,398.91 L44.91,400.40 L45.07,401.90 L45.23,403.40 L45.39,404.89 L45.56,406.39 L45.73,407.88 L45.90,409.38 L46.07,410.87 L46.25,412.37 L46.43,413.86 L46.61,415.35 L46.80,416.85 L46.99,418.34 L47.19,419.83 L47.39,421.32 L47.60,422.81 L47.81,424.30 L48.03,425.79 L48.25,427.28 L48.48,428.76 L48.71,430.25 L48.93,431.74 L49.17,433.23 L49.40,434.71 L49.63,436.20 L49.86,437.69 L50.08,439.18 L50.28,440.67 L50.46,442.16 L50.64,443.65 L50.81,445.15 L50.97,446.64 L51.13,448.14 L51.29,449.64 L51.44,451.13 L51.58,452.63 L51.72,454.13 L51.86,455.63 L51.98,457.13 L52.09,458.63 L52.20,460.13 L52.29,461.63 L52.37,463.13 L52.44,464.64 L52.51,466.14 L52.57,467.64 L52.62,469.15 L52.67,470.65 L52.72,472.15 L52.76,473.66 L52.80,475.16 L52.84,476.67 L52.87,478.17 L52.91,479.68 L52.94,481.18 L52.98,482.68 L53.01,484.19 L53.04,485.69 L53.08,487.20 L53.10,488.20" fill="none" stroke="#ffd0d0" stroke-width="2.2" stroke-linejoin="round" stroke-linecap="butt"/>
<path d="M37.00,313.50 L37.07,315.00 L37.16,316.50 L37.27,318.00 L37.40,319.50 L37.54,321.00 L37.68,322.50 L37.82,324.00 L37.95,325.49 L38.08,326.99 L38.21,328.49 L38.33,329.99 L38.45,331.49 L38.56,332.99 L38.68,334.49 L38.79,335.99 L38.91,337.49 L39.03,338.99 L39.15,340.49 L39.27,341.99 L39.39,343.49 L39.52,344.99 L39.64,346.49 L39.77,347.99 L39.90,349.49 L40.03,350.99 L40.17,352.49 L40.30,353.99 L40.43,355.49 L40.57,356.98 L40.70,358.48 L40.84,359.98 L40.98,361.48 L41.11,362.98 L41.25,364.48 L41.39,365.97 L41.53,367.47 L41.68,368.97 L41.82,370.47 L41.97,371.97 L42.12,373.46 L42.27,374.96 L42.43,376.46 L42.59,377.95 L42.75,379.45 L42.90,380.94 L43.06,382.44 L43.22,383.94 L43.38,385.43 L43.54,386.93 L43.69,388.43 L43.85,389.92 L44.00,391.42 L44.15,392.92 L44.30,394.41 L44.45,395.91 L44.60,397.41 L44.76,398.91 L44.91,400.40 L45.07,401.90 L45.23,403.40 L45.39,404.89 L45.56,406.39 L45.73,407.88 L45.90,409.38 L46.07,410.87 L46.25,412.37 L46.43,413.86 L46.61,415.35 L46.80,416.85 L46.99,418.34 L47.19,419.83 L47.39,421.32 L47.60,422.81 L47.81,424.30 L48.03,425.79 L48.25,427.28 L48.48,428.76 L48.71,430.25 L48.93,431.74 L49.17,433.23 L49.40,434.71 L49.63,436.20 L49.86,437.69 L50.08,439.18 L50.28,440.67 L50.46,442.16 L50.64,443.65 L50.81,445.15 L50.97,446.64 L51.13,448.14 L51.29,449.64 L51.44,451.13 L51.58,452.63 L51.72,454.13 L51.86,455.63 L51.98,457.13 L52.09,458.63 L52.20,460.13 L52.29,461.63 L52.37,463.13 L52.44,464.64 L52.51,466.14 L52.57,467.64 L52.62,469.15 L52.67,470.65 L52.72,472.15 L52.76,473.66 L52.80,475.16 L52.84,476.67 L52.87,478.17 L52.91,479.68 L52.94,481.18 L52.98,482.68 L53.01,484.19 L53.04,485.69 L53.08,487.20 L53.10,488.20" fill="none" stroke="#ff5a5a" stroke-width="1.0" stroke-linejoin="round" stroke-linecap="butt"/>
<polygon points="158,344.5 200,346.7 230.7,350.2 261.3,354.0 275,356.3 284.4,358.6 292,361 298.2,363.3 301.5,366 302.8,372 302.8,390.6 301.8,390.6 300.5,383 298.2,376.5 293,370.5 284.4,365 275,361.7 261.3,358.1 230.7,353.5 200,349.2 158,346.5" fill="#50ff50" stroke="#d0ffd0" stroke-width="0.5" stroke-linejoin="round"/>
</g>
<rect x="218.30" y="303.80" width="76.80" height="31.50" fill="#000" stroke="#8a8a8a" stroke-width="1.6"/>
<path d="M219.50 309.40H244.80" fill="none" stroke="#ff5a5a" stroke-width="2.9"/>
<path d="M219.50 308.90H244.80" fill="none" stroke="#ff9a9a" stroke-width="0.9"/>
<path d="M219.50 318.80H244.80" fill="none" stroke="#4848ff" stroke-width="2.0"/>
<path d="M219.50 318.30H244.80" fill="none" stroke="#b0b0ff" stroke-width="0.9"/>
<path d="M219.50 328.30H244.80" fill="none" stroke="#30ff30" stroke-width="2.2"/>
<path d="M219.50 328.80H244.80" fill="none" stroke="#b0ffb0" stroke-width="0.9"/>
<rect x="401.40" y="295.80" width="3.0" height="210.50" fill="#8e8e8e"/>
<path d="M401.80 310.94H404.40M401.80 307.25H404.40M401.80 304.64H404.40M401.80 302.61H404.40M401.80 300.95H404.40M401.80 299.55H404.40M401.80 298.33H404.40M401.80 297.26H404.40M401.80 331.89H404.40M401.80 328.20H404.40M401.80 325.59H404.40M401.80 323.56H404.40M401.80 321.90H404.40M401.80 320.50H404.40M401.80 319.28H404.40M401.80 318.21H404.40M401.80 352.84H404.40M401.80 349.15H404.40M401.80 346.54H404.40M401.80 344.51H404.40M401.80 342.85H404.40M401.80 341.45H404.40M401.80 340.23H404.40M401.80 339.16H404.40M401.80 373.79H404.40M401.80 370.10H404.40M401.80 367.49H404.40M401.80 365.46H404.40M401.80 363.80H404.40M401.80 362.40H404.40M401.80 361.18H404.40M401.80 360.11H404.40M401.80 394.74H404.40M401.80 391.05H404.40M401.80 388.44H404.40M401.80 386.41H404.40M401.80 384.75H404.40M401.80 383.35H404.40M401.80 382.13H404.40M401.80 381.06H404.40M401.80 415.69H404.40M401.80 412.00H404.40M401.80 409.39H404.40M401.80 407.36H404.40M401.80 405.70H404.40M401.80 404.30H404.40M401.80 403.08H404.40M401.80 402.01H404.40M401.80 436.64H404.40M401.80 432.95H404.40M401.80 430.34H404.40M401.80 428.31H404.40M401.80 426.65H404.40M401.80 425.25H404.40M401.80 424.03H404.40M401.80 422.96H404.40M401.80 457.59H404.40M401.80 453.90H404.40M401.80 451.29H404.40M401.80 449.26H404.40M401.80 447.60H404.40M401.80 446.20H404.40M401.80 444.98H404.40M401.80 443.91H404.40M401.80 478.54H404.40M401.80 474.85H404.40M401.80 472.24H404.40M401.80 470.21H404.40M401.80 468.55H404.40M401.80 467.15H404.40M401.80 465.93H404.40M401.80 464.86H404.40M401.80 499.49H404.40M401.80 495.80H404.40M401.80 493.19H404.40M401.80 491.16H404.40M401.80 489.50H404.40M401.80 488.10H404.40M401.80 486.88H404.40M401.80 485.81H404.40" fill="none" stroke="#333" stroke-width="0.6"/>
<path d="M404.40 310.94H405.30M404.40 307.25H405.30M404.40 304.64H405.30M404.40 302.61H405.30M404.40 300.95H405.30M404.40 299.55H405.30M404.40 298.33H405.30M404.40 297.26H405.30M404.40 331.89H405.30M404.40 328.20H405.30M404.40 325.59H405.30M404.40 323.56H405.30M404.40 321.90H405.30M404.40 320.50H405.30M404.40 319.28H405.30M404.40 318.21H405.30M404.40 352.84H405.30M404.40 349.15H405.30M404.40 346.54H405.30M404.40 344.51H405.30M404.40 342.85H405.30M404.40 341.45H405.30M404.40 340.23H405.30M404.40 339.16H405.30M404.40 373.79H405.30M404.40 370.10H405.30M404.40 367.49H405.30M404.40 365.46H405.30M404.40 363.80H405.30M404.40 362.40H405.30M404.40 361.18H405.30M404.40 360.11H405.30M404.40 394.74H405.30M404.40 391.05H405.30M404.40 388.44H405.30M404.40 386.41H405.30M404.40 384.75H405.30M404.40 383.35H405.30M404.40 382.13H405.30M404.40 381.06H405.30M404.40 415.69H405.30M404.40 412.00H405.30M404.40 409.39H405.30M404.40 407.36H405.30M404.40 405.70H405.30M404.40 404.30H405.30M404.40 403.08H405.30M404.40 402.01H405.30M404.40 436.64H405.30M404.40 432.95H405.30M404.40 430.34H405.30M404.40 428.31H405.30M404.40 426.65H405.30M404.40 425.25H405.30M404.40 424.03H405.30M404.40 422.96H405.30M404.40 457.59H405.30M404.40 453.90H405.30M404.40 451.29H405.30M404.40 449.26H405.30M404.40 447.60H405.30M404.40 446.20H405.30M404.40 444.98H405.30M404.40 443.91H405.30M404.40 478.54H405.30M404.40 474.85H405.30M404.40 472.24H405.30M404.40 470.21H405.30M404.40 468.55H405.30M404.40 467.15H405.30M404.40 465.93H405.30M404.40 464.86H405.30M404.40 499.49H405.30M404.40 495.80H405.30M404.40 493.19H405.30M404.40 491.16H405.30M404.40 489.50H405.30M404.40 488.10H405.30M404.40 486.88H405.30M404.40 485.81H405.30" fill="none" stroke="#ccc" stroke-width="0.8"/>
<path d="M665.10 310.94H667.00M665.10 307.25H667.00M665.10 304.64H667.00M665.10 302.61H667.00M665.10 300.95H667.00M665.10 299.55H667.00M665.10 298.33H667.00M665.10 297.26H667.00M665.10 331.89H667.00M665.10 328.20H667.00M665.10 325.59H667.00M665.10 323.56H667.00M665.10 321.90H667.00M665.10 320.50H667.00M665.10 319.28H667.00M665.10 318.21H667.00M665.10 352.84H667.00M665.10 349.15H667.00M665.10 346.54H667.00M665.10 344.51H667.00M665.10 342.85H667.00M665.10 341.45H667.00M665.10 340.23H667.00M665.10 339.16H667.00M665.10 373.79H667.00M665.10 370.10H667.00M665.10 367.49H667.00M665.10 365.46H667.00M665.10 363.80H667.00M665.10 362.40H667.00M665.10 361.18H667.00M665.10 360.11H667.00M665.10 394.74H667.00M665.10 391.05H667.00M665.10 388.44H667.00M665.10 386.41H667.00M665.10 384.75H667.00M665.10 383.35H667.00M665.10 382.13H667.00M665.10 381.06H667.00M665.10 415.69H667.00M665.10 412.00H667.00M665.10 409.39H667.00M665.10 407.36H667.00M665.10 405.70H667.00M665.10 404.30H667.00M665.10 403.08H667.00M665.10 402.01H667.00M665.10 436.64H667.00M665.10 432.95H667.00M665.10 430.34H667.00M665.10 428.31H667.00M665.10 426.65H667.00M665.10 425.25H667.00M665.10 424.03H667.00M665.10 422.96H667.00M665.10 457.59H667.00M665.10 453.90H667.00M665.10 451.29H667.00M665.10 449.26H667.00M665.10 447.60H667.00M665.10 446.20H667.00M665.10 444.98H667.00M665.10 443.91H667.00M665.10 478.54H667.00M665.10 474.85H667.00M665.10 472.24H667.00M665.10 470.21H667.00M665.10 468.55H667.00M665.10 467.15H667.00M665.10 465.93H667.00M665.10 464.86H667.00M665.10 499.49H667.00M665.10 495.80H667.00M665.10 493.19H667.00M665.10 491.16H667.00M665.10 489.50H667.00M665.10 488.10H667.00M665.10 486.88H667.00M665.10 485.81H667.00" fill="none" stroke="#aaa" stroke-width="0.9"/>
<path d="M404.40 296.30H406.80M667.30 296.30H664.50M404.40 317.25H406.80M667.30 317.25H664.50M404.40 338.20H406.80M667.30 338.20H664.50M404.40 359.15H406.80M667.30 359.15H664.50M404.40 380.10H406.80M667.30 380.10H664.50M404.40 401.05H406.80M667.30 401.05H664.50M404.40 422.00H406.80M667.30 422.00H664.50M404.40 442.95H406.80M667.30 442.95H664.50M404.40 463.90H406.80M667.30 463.90H664.50M404.40 484.85H406.80M667.30 484.85H664.50M404.40 505.80H406.80M667.30 505.80H664.50" fill="none" stroke="#ccc" stroke-width="0.9"/>
<path d="M401.50 505.80H667.80" fill="none" stroke="#7a7a7a" stroke-width="1.9"/>
<path d="M403.30 296.30H668.30" fill="none" stroke="#d0d0d0" stroke-width="1.4"/>
<path d="M668.30 295.10V506.80" fill="none" stroke="#dcdcdc" stroke-width="1.3"/>
<path d="M455.92 504.80V502.20M455.92 297.00V299.20M509.04 504.80V502.20M509.04 297.00V299.20M562.16 504.80V502.20M562.16 297.00V299.20M615.28 504.80V502.20M615.28 297.00V299.20" fill="none" stroke="#bbb" stroke-width="1.4"/>
<clipPath id="cd"><rect x="401.8" y="296.3" width="266.59999999999997" height="209.5"/></clipPath>
<g clip-path="url(#cd)">
<path d="M403.40,313.90 L404.90,313.96 L406.40,314.03 L407.91,314.09 L409.41,314.15 L410.91,314.21 L412.41,314.27 L413.91,314.33 L415.41,314.40 L416.92,314.46 L418.42,314.52 L419.92,314.58 L421.42,314.65 L422.92,314.72 L424.42,314.78 L425.93,314.85 L427.43,314.93 L428.93,315.00 L430.43,315.07 L431.93,315.15 L433.43,315.23 L434.93,315.32 L436.43,315.41 L437.93,315.51 L439.43,315.61 L440.93,315.72 L442.43,315.84 L443.93,315.96 L445.42,316.10 L446.92,316.24 L448.42,316.38 L449.91,316.53 L451.41,316.68 L452.90,316.83 L454.40,316.97 L455.89,317.12 L457.39,317.25 L458.89,317.39 L460.39,317.51 L461.88,317.64 L463.38,317.75 L464.88,317.86 L466.38,317.96 L467.88,318.06 L469.38,318.16 L470.88,318.24 L472.38,318.32 L473.88,318.40 L475.38,318.47 L476.89,318.54 L478.39,318.61 L479.89,318.67 L481.39,318.74 L482.89,318.80 L484.39,318.85 L485.90,318.91 L487.40,318.97 L488.90,319.02 L490.40,319.08 L491.90,319.13 L493.41,319.18 L494.91,319.24 L496.41,319.29 L497.91,319.35 L499.41,319.40 L500.92,319.46 L502.42,319.51 L503.92,319.57 L505.42,319.63 L506.92,319.69 L508.43,319.75 L509.93,319.81 L511.43,319.88 L512.93,319.94 L514.43,320.01 L515.93,320.08 L517.43,320.16 L518.94,320.23 L520.44,320.31 L521.94,320.39 L523.44,320.48 L524.94,320.57 L526.44,320.66 L527.94,320.76 L529.44,320.87 L530.94,320.97 L532.44,321.08 L533.93,321.20 L535.43,321.31 L536.93,321.43 L538.43,321.55 L539.93,321.68 L541.43,321.80 L542.92,321.93 L544.42,322.06 L545.92,322.19 L547.41,322.33 L548.91,322.47 L550.41,322.61 L551.90,322.76 L553.40,322.90 L554.89,323.05 L556.39,323.21 L557.88,323.36 L559.38,323.52 L560.87,323.68 L562.37,323.85 L563.86,324.02 L565.35,324.19 L566.85,324.36 L568.34,324.54 L569.83,324.72 L571.32,324.90 L572.81,325.09 L574.31,325.28 L575.80,325.48 L577.29,325.67 L578.78,325.87 L580.26,326.08 L581.75,326.29 L583.24,326.50 L584.73,326.72 L586.21,326.94 L587.70,327.17 L589.18,327.41 L590.67,327.65 L592.15,327.89 L593.63,328.14 L595.11,328.39 L596.60,328.65 L598.08,328.91 L599.56,329.17 L601.04,329.44 L602.51,329.71 L603.99,329.98 L605.47,330.25 L606.95,330.53 L608.42,330.81 L609.90,331.09 L611.38,331.37 L612.85,331.66 L614.33,331.95 L615.80,332.24 L617.28,332.53 L618.75,332.82 L620.23,333.11 L621.70,333.40 L623.17,333.70 L624.65,333.99 L626.12,334.29 L627.60,334.58 L629.07,334.88 L630.54,335.17 L632.02,335.46 L633.49,335.76 L634.96,336.06 L636.43,336.37 L637.90,336.71 L639.35,337.07 L640.80,337.49 L642.23,337.94 L643.64,338.44 L645.05,338.97 L646.44,339.53 L647.82,340.12 L649.18,340.75 L650.53,341.42 L651.84,342.14 L653.13,342.91 L654.39,343.72 L655.61,344.59 L656.79,345.52 L657.93,346.49 L659.02,347.52 L660.05,348.61 L661.01,349.75 L661.90,350.95 L662.73,352.20 L663.47,353.49 L664.15,354.83 L664.76,356.20 L665.31,357.59 L665.81,359.01 L666.26,360.44 L666.65,361.89 L667.00,363.35 L667.30,364.82 L667.55,366.30 L667.75,367.78 L667.92,369.28 L668.05,370.77 L668.17,372.27 L668.27,373.77 L668.36,375.27 L668.45,376.77 L668.53,378.27 L668.60,379.77 L668.67,381.27 L668.73,382.78 L668.79,384.28 L668.85,385.78 L668.90,387.28 L668.95,388.78 L669.00,390.29 L669.05,391.79 L669.09,393.29 L669.14,394.79 L669.19,396.29 L669.23,397.80 L669.28,399.30 L669.30,399.80" fill="none" stroke="#d0ffd0" stroke-width="2.2" stroke-linejoin="round" stroke-linecap="butt"/>
<path d="M403.40,313.90 L404.90,313.96 L406.40,314.03 L407.91,314.09 L409.41,314.15 L410.91,314.21 L412.41,314.27 L413.91,314.33 L415.41,314.40 L416.92,314.46 L418.42,314.52 L419.92,314.58 L421.42,314.65 L422.92,314.72 L424.42,314.78 L425.93,314.85 L427.43,314.93 L428.93,315.00 L430.43,315.07 L431.93,315.15 L433.43,315.23 L434.93,315.32 L436.43,315.41 L437.93,315.51 L439.43,315.61 L440.93,315.72 L442.43,315.84 L443.93,315.96 L445.42,316.10 L446.92,316.24 L448.42,316.38 L449.91,316.53 L451.41,316.68 L452.90,316.83 L454.40,316.97 L455.89,317.12 L457.39,317.25 L458.89,317.39 L460.39,317.51 L461.88,317.64 L463.38,317.75 L464.88,317.86 L466.38,317.96 L467.88,318.06 L469.38,318.16 L470.88,318.24 L472.38,318.32 L473.88,318.40 L475.38,318.47 L476.89,318.54 L478.39,318.61 L479.89,318.67 L481.39,318.74 L482.89,318.80 L484.39,318.85 L485.90,318.91 L487.40,318.97 L488.90,319.02 L490.40,319.08 L491.90,319.13 L493.41,319.18 L494.91,319.24 L496.41,319.29 L497.91,319.35 L499.41,319.40 L500.92,319.46 L502.42,319.51 L503.92,319.57 L505.42,319.63 L506.92,319.69 L508.43,319.75 L509.93,319.81 L511.43,319.88 L512.93,319.94 L514.43,320.01 L515.93,320.08 L517.43,320.16 L518.94,320.23 L520.44,320.31 L521.94,320.39 L523.44,320.48 L524.94,320.57 L526.44,320.66 L527.94,320.76 L529.44,320.87 L530.94,320.97 L532.44,321.08 L533.93,321.20 L535.43,321.31 L536.93,321.43 L538.43,321.55 L539.93,321.68 L541.43,321.80 L542.92,321.93 L544.42,322.06 L545.92,322.19 L547.41,322.33 L548.91,322.47 L550.41,322.61 L551.90,322.76 L553.40,322.90 L554.89,323.05 L556.39,323.21 L557.88,323.36 L559.38,323.52 L560.87,323.68 L562.37,323.85 L563.86,324.02 L565.35,324.19 L566.85,324.36 L568.34,324.54 L569.83,324.72 L571.32,324.90 L572.81,325.09 L574.31,325.28 L575.80,325.48 L577.29,325.67 L578.78,325.87 L580.26,326.08 L581.75,326.29 L583.24,326.50 L584.73,326.72 L586.21,326.94 L587.70,327.17 L589.18,327.41 L590.67,327.65 L592.15,327.89 L593.63,328.14 L595.11,328.39 L596.60,328.65 L598.08,328.91 L599.56,329.17 L601.04,329.44 L602.51,329.71 L603.99,329.98 L605.47,330.25 L606.95,330.53 L608.42,330.81 L609.90,331.09 L611.38,331.37 L612.85,331.66 L614.33,331.95 L615.80,332.24 L617.28,332.53 L618.75,332.82 L620.23,333.11 L621.70,333.40 L623.17,333.70 L624.65,333.99 L626.12,334.29 L627.60,334.58 L629.07,334.88 L630.54,335.17 L632.02,335.46 L633.49,335.76 L634.96,336.06 L636.43,336.37 L637.90,336.71 L639.35,337.07 L640.80,337.49 L642.23,337.94 L643.64,338.44 L645.05,338.97 L646.44,339.53 L647.82,340.12 L649.18,340.75 L650.53,341.42 L651.84,342.14 L653.13,342.91 L654.39,343.72 L655.61,344.59 L656.79,345.52 L657.93,346.49 L659.02,347.52 L660.05,348.61 L661.01,349.75 L661.90,350.95 L662.73,352.20 L663.47,353.49 L664.15,354.83 L664.76,356.20 L665.31,357.59 L665.81,359.01 L666.26,360.44 L666.65,361.89 L667.00,363.35 L667.30,364.82 L667.55,366.30 L667.75,367.78 L667.92,369.28 L668.05,370.77 L668.17,372.27 L668.27,373.77 L668.36,375.27 L668.45,376.77 L668.53,378.27 L668.60,379.77 L668.67,381.27 L668.73,382.78 L668.79,384.28 L668.85,385.78 L668.90,387.28 L668.95,388.78 L669.00,390.29 L669.05,391.79 L669.09,393.29 L669.14,394.79 L669.19,396.29 L669.23,397.80 L669.28,399.30 L669.30,399.80" fill="none" stroke="#3cff3c" stroke-width="1.0" stroke-linejoin="round" stroke-linecap="butt"/>
<path d="M402.90,304.00 L402.95,305.50 L403.00,307.00 L403.04,308.51 L403.09,310.01 L403.15,311.51 L403.20,313.01 L403.26,314.51 L403.33,316.02 L403.42,317.52 L403.53,319.01 L403.67,320.51 L403.87,321.99 L404.14,323.46 L404.51,324.91 L404.98,326.32 L405.53,327.71 L406.17,329.07 L406.87,330.39 L407.64,331.67 L408.48,332.91 L409.38,334.10 L410.35,335.25 L411.36,336.35 L412.41,337.43 L413.46,338.50 L414.52,339.57 L415.58,340.63 L416.66,341.68 L417.76,342.69 L418.90,343.66 L420.07,344.61 L421.26,345.52 L422.47,346.42 L423.69,347.30 L424.91,348.17 L426.14,349.03 L427.38,349.89 L428.62,350.74 L429.86,351.58 L431.11,352.42 L432.36,353.25 L433.61,354.08 L434.87,354.91 L436.13,355.73 L437.39,356.54 L438.66,357.35 L439.93,358.15 L441.21,358.94 L442.50,359.71 L443.81,360.45 L445.13,361.15 L446.47,361.84 L447.82,362.49 L449.19,363.12 L450.56,363.74 L451.93,364.34 L453.32,364.93 L454.70,365.51 L456.09,366.09 L457.48,366.66 L458.88,367.22 L460.27,367.77 L461.68,368.31 L463.08,368.84 L464.49,369.36 L465.90,369.88 L467.31,370.40 L468.72,370.93 L470.13,371.45 L471.53,371.99 L472.94,372.52 L474.34,373.06 L475.74,373.59 L477.15,374.13 L478.55,374.67 L479.96,375.20 L481.36,375.73 L482.77,376.26 L484.18,376.78 L485.59,377.30 L487.00,377.82 L488.42,378.32 L489.83,378.82 L491.25,379.32 L492.67,379.81 L494.09,380.30 L495.51,380.79 L496.93,381.29 L498.35,381.78 L499.77,382.28 L501.19,382.78 L502.60,383.29 L504.01,383.80 L505.42,384.32 L506.83,384.84 L508.24,385.36 L509.65,385.89 L511.06,386.41 L512.47,386.94 L513.87,387.47 L515.28,388.00 L516.69,388.53 L518.09,389.06 L519.50,389.58 L520.91,390.11 L522.32,390.64 L523.73,391.16 L525.13,391.69 L526.54,392.22 L527.95,392.75 L529.35,393.29 L530.75,393.83 L532.15,394.38 L533.54,394.95 L534.93,395.51 L536.32,396.09 L537.70,396.68 L539.09,397.26 L540.47,397.86 L541.84,398.46 L543.22,399.07 L544.59,399.68 L545.96,400.30 L547.33,400.92 L548.69,401.56 L550.05,402.20 L551.40,402.86 L552.74,403.54 L554.06,404.25 L555.36,405.00 L556.65,405.78 L557.91,406.59 L559.15,407.44 L560.37,408.31 L561.58,409.20 L562.76,410.12 L563.92,411.08 L565.05,412.07 L566.13,413.11 L567.14,414.20 L568.09,415.36 L568.96,416.58 L569.76,417.84 L570.50,419.14 L571.18,420.48 L571.81,421.84 L572.38,423.22 L572.91,424.63 L573.41,426.05 L573.88,427.47 L574.34,428.90 L574.76,430.34 L575.16,431.79 L575.52,433.25 L575.84,434.72 L576.12,436.19 L576.36,437.67 L576.55,439.16 L576.70,440.65 L576.82,442.15 L576.90,443.65 L576.96,445.15 L577.01,446.66 L577.04,448.16 L577.06,449.66 L577.07,451.16 L577.08,452.67 L577.08,454.17 L577.08,455.67 L577.07,457.17 L577.07,458.68 L577.06,460.18 L577.05,461.68 L577.04,463.19 L577.03,464.69 L577.02,466.19 L577.01,467.70 L577.00,469.20 L577.00,470.20" fill="none" stroke="#d0d0ff" stroke-width="2.2" stroke-linejoin="round" stroke-linecap="butt"/>
<path d="M402.90,304.00 L402.95,305.50 L403.00,307.00 L403.04,308.51 L403.09,310.01 L403.15,311.51 L403.20,313.01 L403.26,314.51 L403.33,316.02 L403.42,317.52 L403.53,319.01 L403.67,320.51 L403.87,321.99 L404.14,323.46 L404.51,324.91 L404.98,326.32 L405.53,327.71 L406.17,329.07 L406.87,330.39 L407.64,331.67 L408.48,332.91 L409.38,334.10 L410.35,335.25 L411.36,336.35 L412.41,337.43 L413.46,338.50 L414.52,339.57 L415.58,340.63 L416.66,341.68 L417.76,342.69 L418.90,343.66 L420.07,344.61 L421.26,345.52 L422.47,346.42 L423.69,347.30 L424.91,348.17 L426.14,349.03 L427.38,349.89 L428.62,350.74 L429.86,351.58 L431.11,352.42 L432.36,353.25 L433.61,354.08 L434.87,354.91 L436.13,355.73 L437.39,356.54 L438.66,357.35 L439.93,358.15 L441.21,358.94 L442.50,359.71 L443.81,360.45 L445.13,361.15 L446.47,361.84 L447.82,362.49 L449.19,363.12 L450.56,363.74 L451.93,364.34 L453.32,364.93 L454.70,365.51 L456.09,366.09 L457.48,366.66 L458.88,367.22 L460.27,367.77 L461.68,368.31 L463.08,368.84 L464.49,369.36 L465.90,369.88 L467.31,370.40 L468.72,370.93 L470.13,371.45 L471.53,371.99 L472.94,372.52 L474.34,373.06 L475.74,373.59 L477.15,374.13 L478.55,374.67 L479.96,375.20 L481.36,375.73 L482.77,376.26 L484.18,376.78 L485.59,377.30 L487.00,377.82 L488.42,378.32 L489.83,378.82 L491.25,379.32 L492.67,379.81 L494.09,380.30 L495.51,380.79 L496.93,381.29 L498.35,381.78 L499.77,382.28 L501.19,382.78 L502.60,383.29 L504.01,383.80 L505.42,384.32 L506.83,384.84 L508.24,385.36 L509.65,385.89 L511.06,386.41 L512.47,386.94 L513.87,387.47 L515.28,388.00 L516.69,388.53 L518.09,389.06 L519.50,389.58 L520.91,390.11 L522.32,390.64 L523.73,391.16 L525.13,391.69 L526.54,392.22 L527.95,392.75 L529.35,393.29 L530.75,393.83 L532.15,394.38 L533.54,394.95 L534.93,395.51 L536.32,396.09 L537.70,396.68 L539.09,397.26 L540.47,397.86 L541.84,398.46 L543.22,399.07 L544.59,399.68 L545.96,400.30 L547.33,400.92 L548.69,401.56 L550.05,402.20 L551.40,402.86 L552.74,403.54 L554.06,404.25 L555.36,405.00 L556.65,405.78 L557.91,406.59 L559.15,407.44 L560.37,408.31 L561.58,409.20 L562.76,410.12 L563.92,411.08 L565.05,412.07 L566.13,413.11 L567.14,414.20 L568.09,415.36 L568.96,416.58 L569.76,417.84 L570.50,419.14 L571.18,420.48 L571.81,421.84 L572.38,423.22 L572.91,424.63 L573.41,426.05 L573.88,427.47 L574.34,428.90 L574.76,430.34 L575.16,431.79 L575.52,433.25 L575.84,434.72 L576.12,436.19 L576.36,437.67 L576.55,439.16 L576.70,440.65 L576.82,442.15 L576.90,443.65 L576.96,445.15 L577.01,446.66 L577.04,448.16 L577.06,449.66 L577.07,451.16 L577.08,452.67 L577.08,454.17 L577.08,455.67 L577.07,457.17 L577.07,458.68 L577.06,460.18 L577.05,461.68 L577.04,463.19 L577.03,464.69 L577.02,466.19 L577.01,467.70 L577.00,469.20 L577.00,470.20" fill="none" stroke="#5a5aff" stroke-width="1.0" stroke-linejoin="round" stroke-linecap="butt"/>
<path d="M402.90,304.00 L402.97,305.50 L403.04,307.01 L403.11,308.51 L403.17,310.01 L403.24,311.52 L403.31,313.02 L403.38,314.52 L403.44,316.03 L403.51,317.53 L403.58,319.03 L403.65,320.54 L403.72,322.04 L403.80,323.54 L403.88,325.05 L403.99,326.55 L404.14,328.04 L404.34,329.53 L404.60,331.01 L404.91,332.48 L405.27,333.93 L405.68,335.38 L406.12,336.82 L406.60,338.24 L407.13,339.65 L407.70,341.04 L408.31,342.41 L408.96,343.77 L409.63,345.12 L410.30,346.46 L410.97,347.81 L411.65,349.15 L412.34,350.49 L413.05,351.81 L413.80,353.12 L414.60,354.39 L415.44,355.63 L416.33,356.84 L417.27,358.01 L418.24,359.16 L419.25,360.27 L420.29,361.36 L421.33,362.45 L422.36,363.54 L423.37,364.66 L424.35,365.79 L425.33,366.94 L426.31,368.08 L427.31,369.20 L428.33,370.30 L429.39,371.37 L430.49,372.39 L431.62,373.38 L432.78,374.33 L433.96,375.27 L435.15,376.19 L436.34,377.11 L437.52,378.04 L438.70,378.98 L439.88,379.92 L441.06,380.85 L442.23,381.79 L443.42,382.72 L444.61,383.64 L445.81,384.55 L447.02,385.44 L448.24,386.32 L449.47,387.19 L450.70,388.05 L451.94,388.91 L453.17,389.77 L454.41,390.63 L455.64,391.50 L456.87,392.36 L458.10,393.23 L459.33,394.10 L460.56,394.96 L461.80,395.82 L463.03,396.68 L464.27,397.54 L465.51,398.40 L466.74,399.25 L467.98,400.11 L469.22,400.96 L470.46,401.81 L471.71,402.66 L472.95,403.51 L474.19,404.36 L475.42,405.22 L476.64,406.10 L477.85,407.00 L479.03,407.93 L480.19,408.89 L481.33,409.87 L482.46,410.87 L483.58,411.87 L484.69,412.88 L485.81,413.89 L486.92,414.90 L488.02,415.92 L489.10,416.97 L490.15,418.05 L491.17,419.15 L492.17,420.28 L493.13,421.43 L494.08,422.60 L494.99,423.80 L495.88,425.01 L496.72,426.25 L497.50,427.53 L498.21,428.85 L498.84,430.21 L499.38,431.60 L499.85,433.03 L500.24,434.48 L500.57,435.94 L500.84,437.42 L501.06,438.90 L501.24,440.40 L501.39,441.89 L501.51,443.39 L501.60,444.89 L501.67,446.40 L501.73,447.90 L501.77,449.41 L501.81,450.91 L501.83,452.41 L501.85,453.92 L501.87,455.42 L501.88,456.93 L501.89,458.43 L501.90,459.94 L501.90,461.44 L501.90,462.95 L501.90,464.45 L501.91,465.96 L501.91,467.46 L501.90,468.97 L501.90,470.47 L501.90,471.98 L501.90,473.48 L501.90,474.99 L501.90,476.49 L501.90,478.00 L501.90,478.50" fill="none" stroke="#ffd0d0" stroke-width="2.2" stroke-linejoin="round" stroke-linecap="butt"/>
<path d="M402.90,304.00 L402.97,305.50 L403.04,307.01 L403.11,308.51 L403.17,310.01 L403.24,311.52 L403.31,313.02 L403.38,314.52 L403.44,316.03 L403.51,317.53 L403.58,319.03 L403.65,320.54 L403.72,322.04 L403.80,323.54 L403.88,325.05 L403.99,326.55 L404.14,328.04 L404.34,329.53 L404.60,331.01 L404.91,332.48 L405.27,333.93 L405.68,335.38 L406.12,336.82 L406.60,338.24 L407.13,339.65 L407.70,341.04 L408.31,342.41 L408.96,343.77 L409.63,345.12 L410.30,346.46 L410.97,347.81 L411.65,349.15 L412.34,350.49 L413.05,351.81 L413.80,353.12 L414.60,354.39 L415.44,355.63 L416.33,356.84 L417.27,358.01 L418.24,359.16 L419.25,360.27 L420.29,361.36 L421.33,362.45 L422.36,363.54 L423.37,364.66 L424.35,365.79 L425.33,366.94 L426.31,368.08 L427.31,369.20 L428.33,370.30 L429.39,371.37 L430.49,372.39 L431.62,373.38 L432.78,374.33 L433.96,375.27 L435.15,376.19 L436.34,377.11 L437.52,378.04 L438.70,378.98 L439.88,379.92 L441.06,380.85 L442.23,381.79 L443.42,382.72 L444.61,383.64 L445.81,384.55 L447.02,385.44 L448.24,386.32 L449.47,387.19 L450.70,388.05 L451.94,388.91 L453.17,389.77 L454.41,390.63 L455.64,391.50 L456.87,392.36 L458.10,393.23 L459.33,394.10 L460.56,394.96 L461.80,395.82 L463.03,396.68 L464.27,397.54 L465.51,398.40 L466.74,399.25 L467.98,400.11 L469.22,400.96 L470.46,401.81 L471.71,402.66 L472.95,403.51 L474.19,404.36 L475.42,405.22 L476.64,406.10 L477.85,407.00 L479.03,407.93 L480.19,408.89 L481.33,409.87 L482.46,410.87 L483.58,411.87 L484.69,412.88 L485.81,413.89 L486.92,414.90 L488.02,415.92 L489.10,416.97 L490.15,418.05 L491.17,419.15 L492.17,420.28 L493.13,421.43 L494.08,422.60 L494.99,423.80 L495.88,425.01 L496.72,426.25 L497.50,427.53 L498.21,428.85 L498.84,430.21 L499.38,431.60 L499.85,433.03 L500.24,434.48 L500.57,435.94 L500.84,437.42 L501.06,438.90 L501.24,440.40 L501.39,441.89 L501.51,443.39 L501.60,444.89 L501.67,446.40 L501.73,447.90 L501.77,449.41 L501.81,450.91 L501.83,452.41 L501.85,453.92 L501.87,455.42 L501.88,456.93 L501.89,458.43 L501.90,459.94 L501.90,461.44 L501.90,462.95 L501.90,464.45 L501.91,465.96 L501.91,467.46 L501.90,468.97 L501.90,470.47 L501.90,471.98 L501.90,473.48 L501.90,474.99 L501.90,476.49 L501.90,478.00 L501.90,478.50" fill="none" stroke="#ff5a5a" stroke-width="1.0" stroke-linejoin="round" stroke-linecap="butt"/>
</g>
<rect x="583.30" y="303.80" width="78.20" height="31.50" fill="#000" stroke="#8a8a8a" stroke-width="1.6"/>
<path d="M585.30 309.40H610.70" fill="none" stroke="#ff5a5a" stroke-width="2.9"/>
<path d="M585.30 308.90H610.70" fill="none" stroke="#ff9a9a" stroke-width="0.9"/>
<path d="M585.30 318.80H610.70" fill="none" stroke="#4848ff" stroke-width="2.0"/>
<path d="M585.30 318.30H610.70" fill="none" stroke="#b0b0ff" stroke-width="0.9"/>
<path d="M585.30 328.30H610.70" fill="none" stroke="#30ff30" stroke-width="2.2"/>
<path d="M585.30 328.80H610.70" fill="none" stroke="#b0ffb0" stroke-width="0.9"/><g style="filter:grayscale(1)"><text x="44.30" y="226.80" font-family="Liberation Sans" font-size="8.2" text-anchor="middle" fill="#000" stroke="#ffffff" stroke-width="1.1" paint-order="stroke" textLength="4.6" lengthAdjust="spacingAndGlyphs">0</text>
<text x="97.54" y="226.80" font-family="Liberation Sans" font-size="8.2" text-anchor="middle" fill="#000" stroke="#ffffff" stroke-width="1.1" paint-order="stroke" textLength="18.4" lengthAdjust="spacingAndGlyphs">1000</text>
<text x="150.78" y="226.80" font-family="Liberation Sans" font-size="8.2" text-anchor="middle" fill="#000" stroke="#ffffff" stroke-width="1.1" paint-order="stroke" textLength="18.4" lengthAdjust="spacingAndGlyphs">2000</text>
<text x="204.02" y="226.80" font-family="Liberation Sans" font-size="8.2" text-anchor="middle" fill="#000" stroke="#ffffff" stroke-width="1.1" paint-order="stroke" textLength="18.4" lengthAdjust="spacingAndGlyphs">3000</text>
<text x="257.26" y="226.80" font-family="Liberation Sans" font-size="8.2" text-anchor="middle" fill="#000" stroke="#ffffff" stroke-width="1.1" paint-order="stroke" textLength="18.4" lengthAdjust="spacingAndGlyphs">4000</text>
<text x="310.50" y="226.80" font-family="Liberation Sans" font-size="8.2" text-anchor="middle" fill="#000" stroke="#ffffff" stroke-width="1.1" paint-order="stroke" textLength="18.4" lengthAdjust="spacingAndGlyphs">5000</text>
<text x="41.10" y="5.40" font-family="Liberation Sans" font-size="6.8" text-anchor="end" fill="#000" stroke="#ffffff" stroke-width="1.1" paint-order="stroke">0</text>
<text x="36.92" y="9.60" font-family="Liberation Sans" font-size="9.6" text-anchor="end" fill="#000" stroke="#ffffff" stroke-width="1.1" paint-order="stroke" textLength="9.8" lengthAdjust="spacingAndGlyphs">10</text>
<text x="41.10" y="47.30" font-family="Liberation Sans" font-size="6.8" text-anchor="end" fill="#000" stroke="#ffffff" stroke-width="1.1" paint-order="stroke">-2</text>
<text x="34.65" y="51.50" font-family="Liberation Sans" font-size="9.6" text-anchor="end" fill="#000" stroke="#ffffff" stroke-width="1.1" paint-order="stroke" textLength="9.8" lengthAdjust="spacingAndGlyphs">10</text>
<text x="41.10" y="89.20" font-family="Liberation Sans" font-size="6.8" text-anchor="end" fill="#000" stroke="#ffffff" stroke-width="1.1" paint-order="stroke">-4</text>
<text x="34.65" y="93.40" font-family="Liberation Sans" font-size="9.6" text-anchor="end" fill="#000" stroke="#ffffff" stroke-width="1.1" paint-order="stroke" textLength="9.8" lengthAdjust="spacingAndGlyphs">10</text>
<text x="41.10" y="131.10" font-family="Liberation Sans" font-size="6.8" text-anchor="end" fill="#000" stroke="#ffffff" stroke-width="1.1" paint-order="stroke">-6</text>
<text x="34.65" y="135.30" font-family="Liberation Sans" font-size="9.6" text-anchor="end" fill="#000" stroke="#ffffff" stroke-width="1.1" paint-order="stroke" textLength="9.8" lengthAdjust="spacingAndGlyphs">10</text>
<text x="41.10" y="173.00" font-family="Liberation Sans" font-size="6.8" text-anchor="end" fill="#000" stroke="#ffffff" stroke-width="1.1" paint-order="stroke">-8</text>
<text x="34.65" y="177.20" font-family="Liberation Sans" font-size="9.6" text-anchor="end" fill="#000" stroke="#ffffff" stroke-width="1.1" paint-order="stroke" textLength="9.8" lengthAdjust="spacingAndGlyphs">10</text>
<text x="41.10" y="214.90" font-family="Liberation Sans" font-size="6.8" text-anchor="end" fill="#000" stroke="#ffffff" stroke-width="1.1" paint-order="stroke">-10</text>
<text x="30.87" y="219.10" font-family="Liberation Sans" font-size="9.6" text-anchor="end" fill="#000" stroke="#ffffff" stroke-width="1.1" paint-order="stroke" textLength="9.8" lengthAdjust="spacingAndGlyphs">10</text>
<text x="253.40" y="21.70" font-family="Liberation Sans" font-size="7.2" text-anchor="start" fill="#000" stroke="#ffffff" stroke-width="1.1" paint-order="stroke" font-weight="bold" textLength="46.5" lengthAdjust="spacingAndGlyphs">GIProx-SVRG</text>
<text x="253.40" y="31.10" font-family="Liberation Sans" font-size="7.2" text-anchor="start" fill="#000" stroke="#ffffff" stroke-width="1.1" paint-order="stroke" font-weight="bold" textLength="38.0" lengthAdjust="spacingAndGlyphs">Prox-SVRG</text>
<text x="253.40" y="41.10" font-family="Liberation Sans" font-size="7.2" text-anchor="start" fill="#000" stroke="#ffffff" stroke-width="1.1" paint-order="stroke" font-weight="bold" textLength="46.5" lengthAdjust="spacingAndGlyphs">MiniProx-SGD</text>
<text x="177.30" y="239.00" font-family="Liberation Sans" font-size="8.6" text-anchor="middle" fill="#000" stroke="#ffffff" stroke-width="1.1" paint-order="stroke" >Iteration</text>
<g transform="translate(15.00,109.40) rotate(-90)">
<text x="0" y="3.9" font-family="Liberation Serif" font-size="11.5" text-anchor="middle" fill="#000" stroke="#ffffff" stroke-width="1" paint-order="stroke" textLength="41" lengthAdjust="spacingAndGlyphs">‖<tspan font-style="italic" font-size="13">x</tspan><tspan font-size="7" dy="1.5" font-style="italic">k</tspan><tspan dy="-1.5" font-size="10">−</tspan><tspan font-style="italic" font-size="13">x</tspan><tspan font-size="7" dy="-4.5">*</tspan><tspan dy="4.5">‖</tspan></text>
</g>
<text x="122.9" y="259.2" font-family="Liberation Serif" font-size="19" fill="#000" stroke="#ffffff" stroke-width="1.2" paint-order="stroke" textLength="21.5" lengthAdjust="spacingAndGlyphs">(a)</text>
<text x="154.0" y="259.2" font-family="Liberation Serif" font-size="19" fill="#000" stroke="#ffffff" stroke-width="1.2" paint-order="stroke" textLength="65.8" lengthAdjust="spacingAndGlyphs">Group 1</text>
<text x="409.80" y="226.80" font-family="Liberation Sans" font-size="8.2" text-anchor="middle" fill="#000" stroke="#ffffff" stroke-width="1.1" paint-order="stroke" textLength="4.6" lengthAdjust="spacingAndGlyphs">0</text>
<text x="463.08" y="226.80" font-family="Liberation Sans" font-size="8.2" text-anchor="middle" fill="#000" stroke="#ffffff" stroke-width="1.1" paint-order="stroke" textLength="18.4" lengthAdjust="spacingAndGlyphs">1000</text>
<text x="516.36" y="226.80" font-family="Liberation Sans" font-size="8.2" text-anchor="middle" fill="#000" stroke="#ffffff" stroke-width="1.1" paint-order="stroke" textLength="18.4" lengthAdjust="spacingAndGlyphs">2000</text>
<text x="569.64" y="226.80" font-family="Liberation Sans" font-size="8.2" text-anchor="middle" fill="#000" stroke="#ffffff" stroke-width="1.1" paint-order="stroke" textLength="18.4" lengthAdjust="spacingAndGlyphs">3000</text>
<text x="622.92" y="226.80" font-family="Liberation Sans" font-size="8.2" text-anchor="middle" fill="#000" stroke="#ffffff" stroke-width="1.1" paint-order="stroke" textLength="18.4" lengthAdjust="spacingAndGlyphs">4000</text>
<text x="676.20" y="226.80" font-family="Liberation Sans" font-size="8.2" text-anchor="middle" fill="#000" stroke="#ffffff" stroke-width="1.1" paint-order="stroke" textLength="18.4" lengthAdjust="spacingAndGlyphs">5000</text>
<text x="406.60" y="5.30" font-family="Liberation Sans" font-size="6.8" text-anchor="end" fill="#000" stroke="#ffffff" stroke-width="1.1" paint-order="stroke">0</text>
<text x="402.42" y="9.50" font-family="Liberation Sans" font-size="9.6" text-anchor="end" fill="#000" stroke="#ffffff" stroke-width="1.1" paint-order="stroke" textLength="9.8" lengthAdjust="spacingAndGlyphs">10</text>
<text x="406.60" y="47.22" font-family="Liberation Sans" font-size="6.8" text-anchor="end" fill="#000" stroke="#ffffff" stroke-width="1.1" paint-order="stroke">-2</text>
<text x="400.15" y="51.42" font-family="Liberation Sans" font-size="9.6" text-anchor="end" fill="#000" stroke="#ffffff" stroke-width="1.1" paint-order="stroke" textLength="9.8" lengthAdjust="spacingAndGlyphs">10</text>
<text x="406.60" y="89.14" font-family="Liberation Sans" font-size="6.8" text-anchor="end" fill="#000" stroke="#ffffff" stroke-width="1.1" paint-order="stroke">-4</text>
<text x="400.15" y="93.34" font-family="Liberation Sans" font-size="9.6" text-anchor="end" fill="#000" stroke="#ffffff" stroke-width="1.1" paint-order="stroke" textLength="9.8" lengthAdjust="spacingAndGlyphs">10</text>
<text x="406.60" y="131.06" font-family="Liberation Sans" font-size="6.8" text-anchor="end" fill="#000" stroke="#ffffff" stroke-width="1.1" paint-order="stroke">-6</text>
<text x="400.15" y="135.26" font-family="Liberation Sans" font-size="9.6" text-anchor="end" fill="#000" stroke="#ffffff" stroke-width="1.1" paint-order="stroke" textLength="9.8" lengthAdjust="spacingAndGlyphs">10</text>
<text x="406.60" y="172.98" font-family="Liberation Sans" font-size="6.8" text-anchor="end" fill="#000" stroke="#ffffff" stroke-width="1.1" paint-order="stroke">-8</text>
<text x="400.15" y="177.18" font-family="Liberation Sans" font-size="9.6" text-anchor="end" fill="#000" stroke="#ffffff" stroke-width="1.1" paint-order="stroke" textLength="9.8" lengthAdjust="spacingAndGlyphs">10</text>
<text x="406.60" y="214.90" font-family="Liberation Sans" font-size="6.8" text-anchor="end" fill="#000" stroke="#ffffff" stroke-width="1.1" paint-order="stroke">-10</text>
<text x="396.37" y="219.10" font-family="Liberation Sans" font-size="9.6" text-anchor="end" fill="#000" stroke="#ffffff" stroke-width="1.1" paint-order="stroke" textLength="9.8" lengthAdjust="spacingAndGlyphs">10</text>
<text x="618.70" y="21.80" font-family="Liberation Sans" font-size="7.2" text-anchor="start" fill="#000" stroke="#ffffff" stroke-width="1.1" paint-order="stroke" font-weight="bold" textLength="47.0" lengthAdjust="spacingAndGlyphs">GIProx-SVRG</text>
<text x="618.70" y="31.10" font-family="Liberation Sans" font-size="7.2" text-anchor="start" fill="#000" stroke="#ffffff" stroke-width="1.1" paint-order="stroke" font-weight="bold" textLength="38.0" lengthAdjust="spacingAndGlyphs">Prox-SVRG</text>
<text x="618.70" y="41.00" font-family="Liberation Sans" font-size="7.2" text-anchor="start" fill="#000" stroke="#ffffff" stroke-width="1.1" paint-order="stroke" font-weight="bold" textLength="47.0" lengthAdjust="spacingAndGlyphs">MiniProx-SGD</text>
<text x="542.00" y="238.40" font-family="Liberation Sans" font-size="8.6" text-anchor="middle" fill="#000" stroke="#ffffff" stroke-width="1.1" paint-order="stroke" >Iteration</text>
<g transform="translate(380.60,109.50) rotate(-90)">
<text x="0" y="3.9" font-family="Liberation Serif" font-size="11.5" text-anchor="middle" fill="#000" stroke="#ffffff" stroke-width="1" paint-order="stroke" textLength="41" lengthAdjust="spacingAndGlyphs">‖<tspan font-style="italic" font-size="13">x</tspan><tspan font-size="7" dy="1.5" font-style="italic">k</tspan><tspan dy="-1.5" font-size="10">−</tspan><tspan font-style="italic" font-size="13">x</tspan><tspan font-size="7" dy="-4.5">*</tspan><tspan dy="4.5">‖</tspan></text>
</g>
<text x="488.1" y="259.2" font-family="Liberation Serif" font-size="19" fill="#000" stroke="#ffffff" stroke-width="1.2" paint-order="stroke" textLength="23.2" lengthAdjust="spacingAndGlyphs">(b)</text>
<text x="520.5" y="259.2" font-family="Liberation Serif" font-size="19" fill="#000" stroke="#ffffff" stroke-width="1.2" paint-order="stroke" textLength="66.2" lengthAdjust="spacingAndGlyphs">Group 2</text>
<text x="37.30" y="517.80" font-family="Liberation Sans" font-size="8.2" text-anchor="middle" fill="#000" stroke="#ffffff" stroke-width="1.1" paint-order="stroke" textLength="4.6" lengthAdjust="spacingAndGlyphs">0</text>
<text x="90.44" y="517.80" font-family="Liberation Sans" font-size="8.2" text-anchor="middle" fill="#000" stroke="#ffffff" stroke-width="1.1" paint-order="stroke" textLength="18.4" lengthAdjust="spacingAndGlyphs">1000</text>
<text x="143.58" y="517.80" font-family="Liberation Sans" font-size="8.2" text-anchor="middle" fill="#000" stroke="#ffffff" stroke-width="1.1" paint-order="stroke" textLength="18.4" lengthAdjust="spacingAndGlyphs">2000</text>
<text x="196.72" y="517.80" font-family="Liberation Sans" font-size="8.2" text-anchor="middle" fill="#000" stroke="#ffffff" stroke-width="1.1" paint-order="stroke" textLength="18.4" lengthAdjust="spacingAndGlyphs">3000</text>
<text x="249.86" y="517.80" font-family="Liberation Sans" font-size="8.2" text-anchor="middle" fill="#000" stroke="#ffffff" stroke-width="1.1" paint-order="stroke" textLength="18.4" lengthAdjust="spacingAndGlyphs">4000</text>
<text x="303.00" y="517.80" font-family="Liberation Sans" font-size="8.2" text-anchor="middle" fill="#000" stroke="#ffffff" stroke-width="1.1" paint-order="stroke" textLength="18.4" lengthAdjust="spacingAndGlyphs">5000</text>
<text x="34.10" y="296.40" font-family="Liberation Sans" font-size="6.8" text-anchor="end" fill="#000" stroke="#ffffff" stroke-width="1.1" paint-order="stroke">2</text>
<text x="29.92" y="300.60" font-family="Liberation Sans" font-size="9.6" text-anchor="end" fill="#000" stroke="#ffffff" stroke-width="1.1" paint-order="stroke" textLength="9.8" lengthAdjust="spacingAndGlyphs">10</text>
<text x="34.10" y="338.30" font-family="Liberation Sans" font-size="6.8" text-anchor="end" fill="#000" stroke="#ffffff" stroke-width="1.1" paint-order="stroke">-4</text>
<text x="27.65" y="342.50" font-family="Liberation Sans" font-size="9.6" text-anchor="end" fill="#000" stroke="#ffffff" stroke-width="1.1" paint-order="stroke" textLength="9.8" lengthAdjust="spacingAndGlyphs">10</text>
<text x="34.10" y="380.20" font-family="Liberation Sans" font-size="6.8" text-anchor="end" fill="#000" stroke="#ffffff" stroke-width="1.1" paint-order="stroke">-6</text>
<text x="27.65" y="384.40" font-family="Liberation Sans" font-size="9.6" text-anchor="end" fill="#000" stroke="#ffffff" stroke-width="1.1" paint-order="stroke" textLength="9.8" lengthAdjust="spacingAndGlyphs">10</text>
<text x="34.10" y="422.10" font-family="Liberation Sans" font-size="6.8" text-anchor="end" fill="#000" stroke="#ffffff" stroke-width="1.1" paint-order="stroke">-8</text>
<text x="27.65" y="426.30" font-family="Liberation Sans" font-size="9.6" text-anchor="end" fill="#000" stroke="#ffffff" stroke-width="1.1" paint-order="stroke" textLength="9.8" lengthAdjust="spacingAndGlyphs">10</text>
<text x="34.10" y="464.00" font-family="Liberation Sans" font-size="6.8" text-anchor="end" fill="#000" stroke="#ffffff" stroke-width="1.1" paint-order="stroke">-10</text>
<text x="23.87" y="468.20" font-family="Liberation Sans" font-size="9.6" text-anchor="end" fill="#000" stroke="#ffffff" stroke-width="1.1" paint-order="stroke" textLength="9.8" lengthAdjust="spacingAndGlyphs">10</text>
<text x="34.10" y="505.90" font-family="Liberation Sans" font-size="6.8" text-anchor="end" fill="#000" stroke="#ffffff" stroke-width="1.1" paint-order="stroke">-12</text>
<text x="23.87" y="510.10" font-family="Liberation Sans" font-size="9.6" text-anchor="end" fill="#000" stroke="#ffffff" stroke-width="1.1" paint-order="stroke" textLength="9.8" lengthAdjust="spacingAndGlyphs">10</text>
<text x="245.80" y="312.60" font-family="Liberation Sans" font-size="7.2" text-anchor="start" fill="#000" stroke="#ffffff" stroke-width="1.1" paint-order="stroke" font-weight="bold" textLength="46.5" lengthAdjust="spacingAndGlyphs">GIProx-SVRG</text>
<text x="245.80" y="322.00" font-family="Liberation Sans" font-size="7.2" text-anchor="start" fill="#000" stroke="#ffffff" stroke-width="1.1" paint-order="stroke" font-weight="bold" textLength="38.0" lengthAdjust="spacingAndGlyphs">Prox-SVRG</text>
<text x="245.80" y="331.50" font-family="Liberation Sans" font-size="7.2" text-anchor="start" fill="#000" stroke="#ffffff" stroke-width="1.1" paint-order="stroke" font-weight="bold" textLength="46.5" lengthAdjust="spacingAndGlyphs">MiniProx-SGD</text>
<text x="170.00" y="530.00" font-family="Liberation Sans" font-size="8.6" text-anchor="middle" fill="#000" stroke="#ffffff" stroke-width="1.1" paint-order="stroke" >Iteration</text>
<g transform="translate(8.20,399.50) rotate(-90)">
<text x="0" y="3.9" font-family="Liberation Serif" font-size="11.5" text-anchor="middle" fill="#000" stroke="#ffffff" stroke-width="1" paint-order="stroke" textLength="41" lengthAdjust="spacingAndGlyphs">‖<tspan font-style="italic" font-size="13">x</tspan><tspan font-size="7" dy="1.5" font-style="italic">k</tspan><tspan dy="-1.5" font-size="10">−</tspan><tspan font-style="italic" font-size="13">x</tspan><tspan font-size="7" dy="-4.5">*</tspan><tspan dy="4.5">‖</tspan></text>
</g>
<text x="116.1" y="549.3" font-family="Liberation Serif" font-size="19" fill="#000" stroke="#ffffff" stroke-width="1.2" paint-order="stroke" textLength="21.5" lengthAdjust="spacingAndGlyphs">(c)</text>
<text x="146.2" y="549.3" font-family="Liberation Serif" font-size="19" fill="#000" stroke="#ffffff" stroke-width="1.2" paint-order="stroke" textLength="66.4" lengthAdjust="spacingAndGlyphs">Group 3</text>
<text x="402.80" y="517.70" font-family="Liberation Sans" font-size="8.2" text-anchor="middle" fill="#000" stroke="#ffffff" stroke-width="1.1" paint-order="stroke" textLength="4.6" lengthAdjust="spacingAndGlyphs">0</text>
<text x="455.92" y="517.70" font-family="Liberation Sans" font-size="8.2" text-anchor="middle" fill="#000" stroke="#ffffff" stroke-width="1.1" paint-order="stroke" textLength="18.4" lengthAdjust="spacingAndGlyphs">2000</text>
<text x="509.04" y="517.70" font-family="Liberation Sans" font-size="8.2" text-anchor="middle" fill="#000" stroke="#ffffff" stroke-width="1.1" paint-order="stroke" textLength="18.4" lengthAdjust="spacingAndGlyphs">4000</text>
<text x="562.16" y="517.70" font-family="Liberation Sans" font-size="8.2" text-anchor="middle" fill="#000" stroke="#ffffff" stroke-width="1.1" paint-order="stroke" textLength="18.4" lengthAdjust="spacingAndGlyphs">6000</text>
<text x="615.28" y="517.70" font-family="Liberation Sans" font-size="8.2" text-anchor="middle" fill="#000" stroke="#ffffff" stroke-width="1.1" paint-order="stroke" textLength="18.4" lengthAdjust="spacingAndGlyphs">8000</text>
<text x="668.40" y="517.70" font-family="Liberation Sans" font-size="8.2" text-anchor="middle" fill="#000" stroke="#ffffff" stroke-width="1.1" paint-order="stroke" textLength="23.0" lengthAdjust="spacingAndGlyphs">10000</text>
<text x="399.60" y="296.30" font-family="Liberation Sans" font-size="6.8" text-anchor="end" fill="#000" stroke="#ffffff" stroke-width="1.1" paint-order="stroke">0</text>
<text x="395.42" y="300.50" font-family="Liberation Sans" font-size="9.6" text-anchor="end" fill="#000" stroke="#ffffff" stroke-width="1.1" paint-order="stroke" textLength="9.8" lengthAdjust="spacingAndGlyphs">10</text>
<text x="399.60" y="338.20" font-family="Liberation Sans" font-size="6.8" text-anchor="end" fill="#000" stroke="#ffffff" stroke-width="1.1" paint-order="stroke">-2</text>
<text x="393.15" y="342.40" font-family="Liberation Sans" font-size="9.6" text-anchor="end" fill="#000" stroke="#ffffff" stroke-width="1.1" paint-order="stroke" textLength="9.8" lengthAdjust="spacingAndGlyphs">10</text>
<text x="399.60" y="380.10" font-family="Liberation Sans" font-size="6.8" text-anchor="end" fill="#000" stroke="#ffffff" stroke-width="1.1" paint-order="stroke">-4</text>
<text x="393.15" y="384.30" font-family="Liberation Sans" font-size="9.6" text-anchor="end" fill="#000" stroke="#ffffff" stroke-width="1.1" paint-order="stroke" textLength="9.8" lengthAdjust="spacingAndGlyphs">10</text>
<text x="399.60" y="422.00" font-family="Liberation Sans" font-size="6.8" text-anchor="end" fill="#000" stroke="#ffffff" stroke-width="1.1" paint-order="stroke">-6</text>
<text x="393.15" y="426.20" font-family="Liberation Sans" font-size="9.6" text-anchor="end" fill="#000" stroke="#ffffff" stroke-width="1.1" paint-order="stroke" textLength="9.8" lengthAdjust="spacingAndGlyphs">10</text>
<text x="399.60" y="463.90" font-family="Liberation Sans" font-size="6.8" text-anchor="end" fill="#000" stroke="#ffffff" stroke-width="1.1" paint-order="stroke">-8</text>
<text x="393.15" y="468.10" font-family="Liberation Sans" font-size="9.6" text-anchor="end" fill="#000" stroke="#ffffff" stroke-width="1.1" paint-order="stroke" textLength="9.8" lengthAdjust="spacingAndGlyphs">10</text>
<text x="399.60" y="505.80" font-family="Liberation Sans" font-size="6.8" text-anchor="end" fill="#000" stroke="#ffffff" stroke-width="1.1" paint-order="stroke">-10</text>
<text x="389.37" y="510.00" font-family="Liberation Sans" font-size="9.6" text-anchor="end" fill="#000" stroke="#ffffff" stroke-width="1.1" paint-order="stroke" textLength="9.8" lengthAdjust="spacingAndGlyphs">10</text>
<text x="611.70" y="312.60" font-family="Liberation Sans" font-size="7.2" text-anchor="start" fill="#000" stroke="#ffffff" stroke-width="1.1" paint-order="stroke" font-weight="bold" textLength="47.0" lengthAdjust="spacingAndGlyphs">GIProx-SVRG</text>
<text x="611.70" y="322.00" font-family="Liberation Sans" font-size="7.2" text-anchor="start" fill="#000" stroke="#ffffff" stroke-width="1.1" paint-order="stroke" font-weight="bold" textLength="38.0" lengthAdjust="spacingAndGlyphs">Prox-SVRG</text>
<text x="611.70" y="331.50" font-family="Liberation Sans" font-size="7.2" text-anchor="start" fill="#000" stroke="#ffffff" stroke-width="1.1" paint-order="stroke" font-weight="bold" textLength="47.0" lengthAdjust="spacingAndGlyphs">MiniProx-SGD</text>
<text x="535.40" y="529.00" font-family="Liberation Sans" font-size="8.6" text-anchor="middle" fill="#000" stroke="#ffffff" stroke-width="1.1" paint-order="stroke" >Iteration</text>
<g transform="translate(373.30,400.00) rotate(-90)">
<text x="0" y="3.9" font-family="Liberation Serif" font-size="11.5" text-anchor="middle" fill="#000" stroke="#ffffff" stroke-width="1" paint-order="stroke" textLength="41" lengthAdjust="spacingAndGlyphs">‖<tspan font-style="italic" font-size="13">x</tspan><tspan font-size="7" dy="1.5" font-style="italic">k</tspan><tspan dy="-1.5" font-size="10">−</tspan><tspan font-style="italic" font-size="13">x</tspan><tspan font-size="7" dy="-4.5">*</tspan><tspan dy="4.5">‖</tspan></text>
</g>
<text x="480.7" y="549.3" font-family="Liberation Serif" font-size="19" fill="#000" stroke="#ffffff" stroke-width="1.2" paint-order="stroke" textLength="23.3" lengthAdjust="spacingAndGlyphs">(d)</text>
<text x="513.1" y="549.3" font-family="Liberation Serif" font-size="19" fill="#000" stroke="#ffffff" stroke-width="1.2" paint-order="stroke" textLength="66.2" lengthAdjust="spacingAndGlyphs">Group 4</text></g></svg>
</body></html>
